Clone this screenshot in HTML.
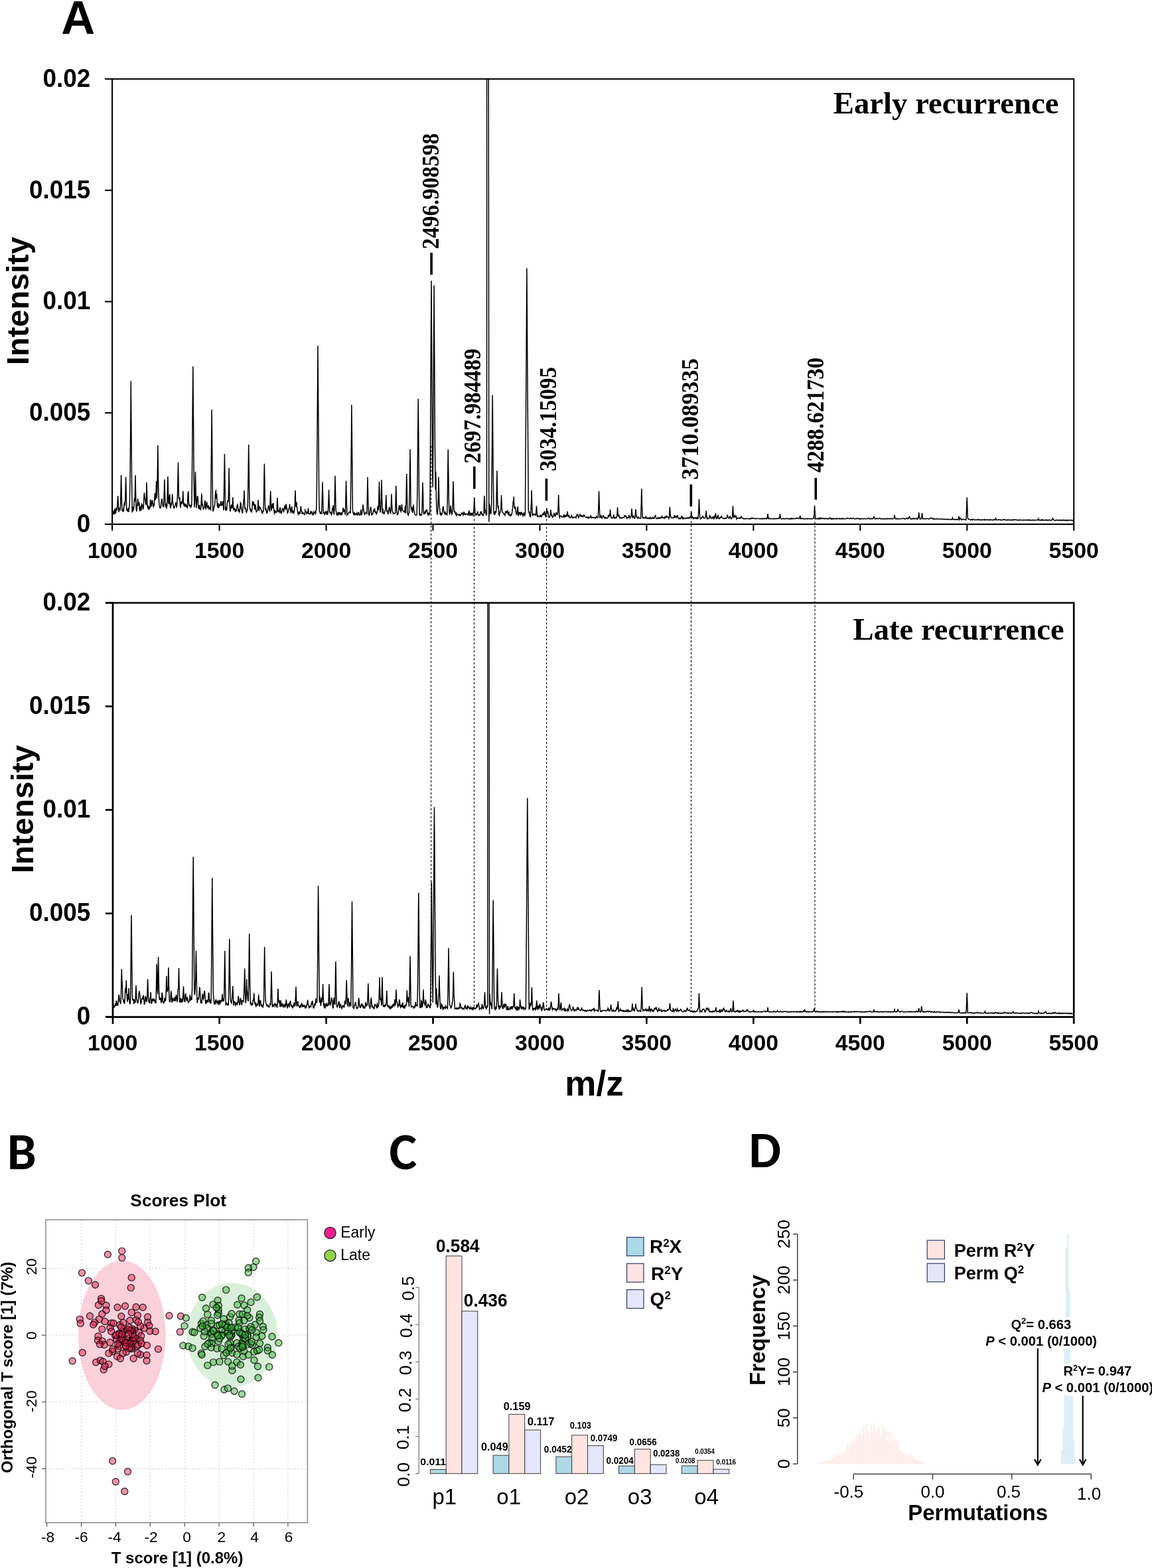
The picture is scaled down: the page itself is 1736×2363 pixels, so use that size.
<!DOCTYPE html><html><head><meta charset="utf-8"><title>Figure</title><style>html,body{margin:0;padding:0;background:#fff;}body{width:1736px;height:2363px;overflow:hidden;position:relative;}svg{position:absolute;left:0;top:0;display:block;}</style></head><body>
<svg width="1736" height="2363" viewBox="0 0 1736 2363" font-family="'Liberation Sans', Arial, Helvetica, sans-serif">
<rect x="0" y="0" width="1736" height="2363" fill="#fff"/>
<defs><clipPath id="c1"><rect x="169.7" y="119.0" width="1448.5" height="671.0"/></clipPath><clipPath id="c2"><rect x="170.0" y="908.5" width="1448.2" height="624.0999999999999"/></clipPath></defs>
<text x="92.2" y="50.9" font-size="70.6" font-weight="bold" font-family="'Liberation Sans', Arial, Helvetica, sans-serif">A</text>
<polyline points="170.0,775.2 170.7,772.0 171.3,770.7 171.9,774.6 172.6,773.6 173.2,766.3 173.9,773.4 174.6,772.7 175.2,765.1 175.8,768.4 176.5,768.6 177.2,755.1 177.8,747.3 178.4,762.9 179.1,771.8 179.8,765.8 180.4,767.4 181.1,768.3 181.7,758.6 182.3,727.6 182.6,715.7 183.0,734.7 183.7,765.7 184.3,769.5 184.9,770.5 185.6,768.3 186.2,771.0 186.9,761.0 187.6,756.7 188.2,762.2 188.8,751.7 189.5,723.2 189.6,718.7 190.2,743.7 190.8,767.2 191.4,770.0 192.1,767.5 192.8,771.6 193.4,765.2 194.1,771.2 194.7,764.3 195.3,758.8 196.0,726.4 196.7,650.3 197.3,574.2 197.9,650.3 198.6,726.4 199.2,771.3 199.9,770.5 200.6,763.9 201.2,769.1 201.8,764.7 202.5,751.0 203.2,755.8 203.8,725.4 204.0,716.0 204.4,736.8 205.1,765.3 205.8,770.8 206.4,765.5 207.1,759.2 207.7,751.6 208.3,762.0 209.0,758.8 209.7,757.8 210.3,769.0 210.9,769.6 211.6,765.5 212.2,762.4 212.9,769.5 213.6,759.6 214.2,760.5 214.8,762.0 215.5,766.6 216.2,765.3 216.8,751.2 217.4,742.6 218.1,751.2 218.8,752.4 219.4,757.9 220.1,761.1 220.7,737.8 221.0,727.0 221.3,739.5 222.0,762.5 222.7,764.7 223.3,761.7 223.9,767.6 224.6,767.4 225.2,764.6 225.9,765.5 226.6,753.0 227.2,756.1 227.8,763.6 228.5,760.5 229.2,754.2 229.8,754.7 230.4,759.6 231.1,764.5 231.8,760.5 232.4,761.1 233.1,747.0 233.7,743.1 234.3,753.7 235.0,747.0 235.6,725.0 235.7,726.8 236.3,750.6 236.9,737.0 237.6,692.5 237.9,671.0 238.2,696.1 238.9,742.7 239.6,757.1 240.2,761.0 240.8,765.8 241.5,763.1 242.2,766.2 242.8,759.4 243.4,755.0 244.1,751.3 244.8,758.4 245.4,762.4 246.1,761.5 246.7,764.2 247.3,743.3 247.9,722.4 248.0,726.2 248.7,750.8 249.3,763.5 249.9,758.5 250.6,765.5 251.2,765.7 251.9,759.1 252.6,732.4 252.9,718.0 253.2,730.4 253.8,757.1 254.5,759.7 255.2,748.4 255.8,744.7 256.4,763.0 257.1,766.0 257.8,759.8 258.4,760.7 259.1,754.4 259.7,744.5 260.4,758.4 261.0,760.0 261.6,764.9 262.3,765.7 262.9,763.8 263.6,762.5 264.2,761.2 264.9,756.9 265.6,760.0 266.2,765.1 266.9,756.2 267.5,745.5 268.1,716.5 268.5,697.0 268.8,713.8 269.4,750.1 270.1,753.2 270.8,749.2 271.4,761.1 272.1,765.1 272.7,756.2 273.4,757.9 274.0,755.2 274.6,759.5 275.3,752.2 275.8,740.0 275.9,743.7 276.6,759.5 277.2,761.6 277.9,759.3 278.6,760.8 279.2,764.2 279.9,759.3 280.5,763.3 281.1,760.9 281.8,764.2 282.4,765.9 283.1,745.1 283.8,740.3 284.4,757.1 285.1,762.9 285.7,760.7 286.4,763.9 287.0,760.9 287.6,764.4 288.3,762.7 288.9,759.9 289.6,699.3 290.2,619.7 290.8,552.3 290.9,564.6 291.6,644.3 292.2,724.1 292.9,764.8 293.5,758.0 294.1,727.5 294.5,711.0 294.8,725.2 295.4,755.9 296.1,765.4 296.8,753.9 297.4,748.2 298.1,748.5 298.7,761.1 299.4,767.0 300.0,764.4 300.6,761.1 301.3,767.3 301.9,768.2 302.6,768.0 303.2,758.5 303.9,743.7 304.6,760.9 305.2,760.1 305.9,764.8 306.5,768.1 307.1,765.6 307.8,764.9 308.4,758.8 309.1,754.1 309.8,764.6 310.4,767.6 311.1,759.5 311.7,756.3 312.4,762.8 313.0,765.0 313.6,763.6 314.3,761.3 314.9,768.2 315.6,766.1 316.2,764.5 316.9,765.0 317.6,769.3 318.2,706.7 318.9,642.1 319.1,617.2 319.5,657.0 320.1,721.8 320.8,769.9 321.4,769.9 322.1,767.0 322.8,763.0 323.4,762.0 324.1,754.2 324.7,741.1 325.4,739.7 326.0,751.7 326.6,744.1 327.3,760.7 327.9,764.5 328.6,758.0 329.2,765.9 329.9,763.7 330.6,760.6 331.2,761.6 331.9,761.9 332.5,758.6 333.1,755.2 333.8,761.4 334.4,760.6 335.1,760.8 335.8,755.1 336.4,762.7 337.1,769.2 337.7,730.7 338.4,687.3 338.4,684.0 339.0,724.1 339.6,767.6 340.3,768.7 340.9,764.1 341.6,769.2 342.2,761.7 342.9,753.8 343.6,756.8 344.2,753.5 344.9,718.5 345.1,705.0 345.5,726.6 346.1,761.8 346.8,769.9 347.4,769.1 348.1,762.9 348.8,760.5 349.4,765.4 350.1,765.0 350.7,751.5 350.8,749.4 351.4,760.9 352.0,769.1 352.6,767.1 353.3,766.3 353.9,768.0 354.6,771.6 355.2,767.3 355.9,770.8 356.6,766.7 357.2,762.0 357.9,760.4 358.5,763.2 359.1,770.6 359.8,768.7 360.4,771.7 361.1,771.7 361.8,764.8 362.4,757.6 363.1,758.9 363.7,766.9 364.4,767.8 365.0,772.7 365.6,772.7 366.3,763.6 366.9,757.0 367.6,751.1 368.0,739.0 368.2,746.6 368.9,766.2 369.6,767.0 370.2,764.9 370.9,771.1 371.5,772.2 372.1,769.8 372.8,769.0 373.4,757.3 374.1,715.4 374.7,670.0 374.8,673.8 375.4,723.0 376.1,762.0 376.7,767.3 377.4,767.0 378.0,771.5 378.6,769.4 379.3,771.0 379.9,766.6 380.6,755.1 381.2,761.3 381.9,758.0 382.0,756.4 382.6,758.7 383.2,761.9 383.9,768.3 384.5,760.0 385.1,762.7 385.8,769.8 386.4,771.7 387.1,771.3 387.8,769.0 388.4,764.7 389.0,753.4 389.1,754.3 389.7,766.6 390.4,770.2 391.0,764.0 391.6,765.3 392.3,765.1 392.9,767.8 393.6,768.2 394.2,770.9 394.9,773.0 395.6,773.7 396.2,769.3 396.9,771.5 397.5,752.3 398.1,713.7 398.4,698.8 398.8,722.6 399.4,761.3 400.1,769.2 400.8,765.7 401.4,771.4 402.1,773.3 402.7,771.9 403.4,768.8 404.0,767.1 404.6,761.5 405.3,765.7 405.9,768.7 406.6,770.0 407.2,753.7 407.7,740.0 407.9,746.1 408.6,765.0 409.2,769.7 409.9,763.4 410.5,758.9 411.1,765.6 411.8,758.0 412.4,765.7 413.1,772.7 413.8,774.0 414.4,770.0 415.1,771.2 415.7,771.9 416.4,771.3 417.0,772.6 417.6,757.9 418.0,750.0 418.3,756.8 418.9,771.2 419.6,769.8 420.2,770.4 420.9,771.9 421.6,766.4 422.2,764.6 422.9,773.1 423.5,770.8 424.1,774.5 424.8,768.9 425.4,766.4 426.1,766.6 426.8,766.8 427.4,772.2 428.1,768.3 428.7,764.0 429.4,762.5 430.0,766.3 430.6,768.3 431.3,759.3 431.9,764.4 432.6,767.4 433.2,773.2 433.9,772.1 434.6,769.9 435.2,767.1 435.9,765.3 436.5,759.5 437.1,766.3 437.8,769.4 438.4,773.2 439.1,765.4 439.8,763.4 440.4,771.2 441.1,770.3 441.7,774.1 442.4,770.9 443.0,772.6 443.6,770.1 444.3,761.6 444.9,740.6 445.0,739.0 445.6,758.4 446.2,764.2 446.9,756.6 447.6,765.5 448.2,768.8 448.9,773.9 449.5,775.4 450.1,772.4 450.8,773.5 451.4,771.0 452.1,774.6 452.8,769.0 453.4,762.7 454.1,769.5 454.7,770.6 455.4,774.8 456.0,773.0 456.6,772.4 457.3,773.6 457.9,774.6 458.6,774.9 459.2,775.4 459.9,768.6 460.6,770.2 461.2,770.9 461.9,773.9 462.5,772.2 463.1,771.8 463.8,774.3 464.4,765.7 465.1,772.2 465.8,774.6 466.4,774.7 467.1,774.3 467.7,774.5 468.4,770.5 469.0,771.1 469.6,774.0 470.3,771.2 470.9,775.6 471.6,775.9 472.2,775.8 472.9,771.6 473.6,773.1 474.2,772.5 474.9,771.1 475.5,775.3 476.1,770.0 476.8,768.4 477.4,729.9 478.1,642.3 478.8,554.7 479.0,521.0 479.4,574.9 480.1,662.5 480.7,750.1 481.4,771.1 482.0,771.6 482.6,773.6 483.3,772.4 483.9,771.6 484.6,775.0 485.2,758.2 485.9,730.6 486.0,726.4 486.6,749.7 487.2,772.8 487.9,772.0 488.5,772.8 489.1,776.2 489.8,773.4 490.4,771.6 491.1,773.2 491.8,771.3 492.4,774.2 493.1,772.4 493.7,776.0 494.4,771.3 495.0,758.3 495.6,738.0 495.6,739.7 496.3,761.7 496.9,771.7 497.6,773.1 498.2,773.7 498.9,771.5 499.6,775.6 500.2,774.1 500.9,765.5 501.5,768.6 502.1,761.5 502.8,772.7 503.4,775.6 504.1,761.3 504.8,729.3 505.0,717.0 505.4,736.7 506.1,768.7 506.7,771.6 507.4,775.5 508.0,776.2 508.6,775.2 509.3,771.7 509.9,776.0 510.6,775.5 511.2,771.8 511.9,775.2 512.5,772.3 513.2,776.4 513.9,772.0 514.5,775.7 515.1,775.9 515.8,773.0 516.5,771.4 517.1,765.2 517.8,766.9 518.4,771.9 519.0,767.8 519.7,770.8 520.4,776.1 521.0,750.8 521.6,724.4 521.6,726.6 522.3,755.2 523.0,776.2 523.6,775.2 524.2,775.2 524.9,773.8 525.5,772.9 526.2,771.6 526.9,772.5 527.5,771.7 528.1,773.6 528.8,725.7 529.5,657.3 529.9,610.0 530.1,631.0 530.8,699.4 531.4,767.8 532.0,772.6 532.7,774.6 533.4,775.7 534.0,771.9 534.6,774.1 535.3,775.6 536.0,774.3 536.6,774.9 537.2,775.2 537.9,773.2 538.5,776.0 539.2,774.7 539.9,773.8 540.5,771.6 541.1,776.2 541.8,776.3 542.5,775.9 543.1,774.8 543.8,767.8 544.4,775.8 545.0,775.8 545.7,773.2 546.4,768.1 547.0,760.3 547.6,766.9 548.3,770.0 549.0,774.6 549.6,775.6 550.2,773.9 550.9,772.7 551.5,772.2 552.2,773.1 552.9,774.0 553.5,742.9 554.0,719.0 554.1,726.2 554.8,757.3 555.5,773.3 556.1,776.3 556.8,775.6 557.4,771.8 558.0,765.7 558.7,764.7 559.4,769.0 560.0,776.2 560.6,775.9 561.3,774.0 562.0,774.0 562.6,770.5 563.2,768.9 563.9,770.1 564.5,766.2 565.2,770.8 565.9,772.4 566.5,771.9 567.1,774.8 567.8,773.9 568.5,769.9 569.1,764.3 569.8,762.9 570.4,768.7 571.0,745.1 571.5,725.7 571.7,734.3 572.4,762.4 573.0,772.3 573.6,768.7 574.3,754.5 575.0,725.3 575.0,723.0 575.6,750.0 576.2,773.5 576.9,766.4 577.5,771.8 578.2,774.2 578.9,774.2 579.5,772.8 580.1,769.7 580.8,767.7 581.5,755.6 581.8,746.0 582.1,754.3 582.8,771.3 583.4,768.8 584.0,771.4 584.7,775.1 585.4,772.2 586.0,767.5 586.6,764.0 587.3,766.8 588.0,771.7 588.6,774.4 589.2,766.0 589.9,747.3 590.0,744.4 590.5,760.3 591.2,770.3 591.9,771.5 592.5,774.0 593.1,773.2 593.8,773.7 594.5,773.7 595.1,773.6 595.8,772.4 596.4,747.4 596.8,732.0 597.0,741.6 597.7,766.7 598.4,775.5 599.0,775.8 599.6,774.6 600.3,772.7 601.0,765.9 601.6,761.5 602.2,768.1 602.9,761.4 603.5,769.3 604.2,771.0 604.9,767.0 605.5,759.9 606.1,768.0 606.8,769.4 607.5,770.2 608.1,770.6 608.8,770.3 609.4,772.6 610.0,768.6 610.7,762.1 611.4,773.7 612.0,755.1 612.6,721.7 612.8,714.0 613.3,739.7 614.0,773.0 614.6,775.1 615.2,776.4 615.9,773.5 616.5,773.1 617.2,736.1 617.9,688.1 618.0,677.0 618.5,713.9 619.1,761.9 619.8,768.5 620.5,764.0 621.1,771.1 621.8,772.0 622.4,765.1 623.0,760.5 623.7,768.7 624.4,771.1 625.0,775.1 625.6,776.3 626.3,776.3 627.0,776.5 627.6,776.1 628.2,775.8 628.9,742.4 629.5,671.7 630.2,601.0 630.9,671.7 631.5,742.4 632.1,775.1 632.8,776.5 633.5,775.0 634.1,776.5 634.8,776.5 635.4,776.4 636.0,767.2 636.7,739.7 637.0,727.0 637.4,741.8 638.0,769.3 638.6,775.2 639.3,771.3 640.0,774.7 640.6,770.5 641.2,772.1 641.9,768.6 642.5,771.4 643.2,767.6 643.9,772.2 644.5,774.2 645.1,776.6 645.8,772.3 646.5,775.8 647.1,774.4 647.8,774.4 648.4,699.1 649.0,586.9 649.7,474.8 650.0,423.0 650.4,483.4 651.0,595.6 651.6,707.7 652.3,734.5 653.0,624.5 653.6,514.6 654.1,430.0 654.2,455.4 654.9,565.3 655.5,675.3 656.2,737.5 656.7,710.7 656.9,718.8 657.5,753.6 658.1,770.1 658.8,774.9 659.5,774.1 660.1,762.2 660.8,730.8 661.0,718.7 661.4,738.0 662.0,763.2 662.7,766.9 663.4,776.0 664.0,774.1 664.6,776.1 665.3,774.2 666.0,774.9 666.6,771.2 667.2,766.5 667.9,762.8 668.5,768.8 669.2,773.1 669.9,774.1 670.5,774.5 671.1,770.9 671.8,775.1 672.5,774.1 673.1,775.2 673.8,775.7 674.4,743.8 675.0,695.8 675.3,677.3 675.7,706.8 676.4,754.8 677.0,769.9 677.6,775.8 678.3,772.4 679.0,761.8 679.6,767.5 680.2,771.7 680.9,775.1 681.5,774.2 682.2,760.3 682.9,731.9 683.0,725.3 683.5,747.2 684.1,770.0 684.8,771.3 685.5,770.7 686.1,773.1 686.8,774.7 687.4,771.9 688.0,776.9 688.7,775.9 689.4,775.3 690.0,774.8 690.6,775.0 691.3,775.9 692.0,776.9 692.6,775.3 693.2,776.0 693.9,776.8 694.5,775.3 695.2,775.1 695.9,773.1 696.5,772.8 697.1,773.8 697.8,776.5 698.5,774.6 699.1,771.1 699.8,773.4 700.4,775.7 701.0,775.7 701.7,774.3 702.4,774.2 703.0,774.8 703.6,774.4 704.3,775.0 705.0,775.2 705.6,776.1 706.2,771.6 706.9,769.2 707.5,775.4 708.2,774.0 708.9,776.0 709.5,774.4 710.1,776.7 710.8,773.8 711.5,773.3 712.1,776.7 712.8,776.5 713.4,774.2 714.0,768.5 714.7,752.1 714.8,749.6 715.4,763.4 716.0,776.7 716.6,774.4 717.3,774.9 718.0,776.2 718.6,775.1 719.2,771.5 719.9,771.7 720.5,774.7 721.2,776.7 721.9,775.9 722.5,776.1 723.1,776.6 723.8,773.1 724.5,771.2 725.1,771.1 725.8,775.4 726.4,773.4 727.0,776.8 727.7,776.3 728.4,776.6 729.0,774.4 729.6,756.6 730.0,747.0 730.3,755.2 731.0,771.2 731.6,770.0 732.2,774.1 732.7,776.7 732.9,772.4 733.5,775.5 733.6,79.0 734.2,79.0 734.9,79.0 735.5,79.0 736.1,79.0 736.2,79.0 736.8,786.5 737.5,763.0 737.8,761.0 738.1,761.8 738.8,771.5 739.4,775.0 740.0,773.0 740.7,760.3 741.4,689.9 742.0,617.6 742.2,595.3 742.6,645.4 743.3,717.7 744.0,772.6 744.6,774.6 745.2,772.8 745.9,775.7 746.5,770.1 747.2,773.2 747.9,767.2 748.5,731.3 748.9,709.3 749.1,723.1 749.8,758.9 750.5,765.9 751.1,762.0 751.8,775.7 752.4,776.6 753.0,772.2 753.7,772.5 754.4,769.7 755.0,763.2 755.6,746.2 755.6,747.6 756.3,766.1 757.0,771.9 757.6,772.3 758.2,773.1 758.9,773.8 759.5,775.0 760.2,774.8 760.9,776.5 761.5,772.6 762.1,770.1 762.8,773.1 763.5,772.6 764.1,770.5 764.8,769.7 765.4,773.9 766.0,776.4 766.7,771.1 767.4,774.3 768.0,776.8 768.6,777.5 769.3,776.5 770.0,775.3 770.6,776.5 771.2,775.4 771.9,770.3 772.5,765.7 773.2,756.7 773.9,757.8 774.2,748.4 774.5,756.4 775.1,765.8 775.8,766.0 776.5,763.6 777.1,771.1 777.8,772.5 778.4,776.4 779.0,773.8 779.7,765.6 780.4,763.6 781.0,777.8 781.6,773.8 782.3,772.3 783.0,772.9 783.6,776.1 784.2,773.4 784.9,775.2 785.5,772.1 786.2,772.2 786.9,775.6 787.5,773.6 788.1,777.4 788.8,776.1 789.5,772.4 790.1,777.1 790.8,776.5 791.4,775.3 791.5,772.4 792.0,692.7 792.7,591.3 793.4,490.0 793.4,482.2 793.9,404.2 794.0,419.8 794.4,482.2 794.6,521.2 795.3,622.6 796.0,724.0 796.3,769.5 796.6,770.0 797.2,772.6 797.9,772.0 798.5,778.1 799.2,778.6 799.9,773.4 800.5,759.8 801.1,738.7 801.1,740.5 801.8,763.3 802.5,777.6 803.1,774.3 803.8,775.4 804.4,775.6 805.0,775.2 805.7,774.7 806.4,776.3 807.0,776.6 807.6,775.7 808.3,765.7 808.5,762.6 809.0,769.6 809.6,778.4 810.2,778.1 810.9,777.2 811.5,778.5 812.2,778.4 812.9,778.7 813.5,778.5 814.1,776.2 814.8,776.3 815.5,779.0 816.1,778.3 816.8,776.8 817.4,775.6 818.0,774.9 818.7,772.6 819.4,776.6 820.0,773.6 820.6,770.5 821.3,774.0 822.0,777.6 822.6,779.5 823.2,774.2 823.9,765.6 824.5,774.0 825.2,769.9 825.9,773.2 826.5,779.6 827.1,779.4 827.8,779.6 828.5,778.4 829.1,775.1 829.8,768.1 830.4,772.5 831.0,777.0 831.7,776.3 832.4,779.8 833.0,779.2 833.6,778.8 834.3,777.7 835.0,772.9 835.6,775.1 836.2,777.6 836.9,778.0 837.5,775.6 838.2,772.0 838.9,775.7 839.5,773.5 840.1,776.0 840.8,770.4 841.5,753.3 841.7,745.6 842.1,758.0 842.8,778.0 843.4,779.9 844.0,777.5 844.7,777.6 845.4,777.2 846.0,778.1 846.6,779.2 847.3,779.0 848.0,778.7 848.6,778.5 849.2,776.9 849.9,779.8 850.5,777.2 851.2,779.1 851.9,778.9 852.5,775.8 853.1,778.2 853.8,778.2 854.5,775.6 855.1,770.5 855.8,776.4 856.4,778.2 857.0,776.9 857.7,777.1 858.4,780.1 859.0,780.2 859.6,779.6 860.3,779.6 861.0,778.4 861.6,777.0 862.2,779.8 862.9,780.6 863.5,780.3 864.2,779.5 864.9,779.4 865.5,780.0 866.1,779.7 866.8,779.0 867.5,779.1 868.1,780.4 868.8,777.6 869.4,775.8 870.0,777.0 870.7,775.8 871.4,778.1 872.0,780.1 872.6,778.5 873.3,777.1 874.0,775.4 874.6,777.3 875.2,778.0 875.9,776.9 876.5,778.2 877.2,777.4 877.9,778.1 878.5,779.0 879.1,778.6 879.8,776.0 880.5,776.3 881.1,778.2 881.8,778.9 882.4,779.6 883.0,779.4 883.7,779.1 884.4,779.7 885.0,779.5 885.6,780.9 886.3,781.0 887.0,779.3 887.6,780.7 888.2,780.4 888.9,780.2 889.5,779.5 890.2,776.3 890.9,779.4 891.5,780.7 892.1,779.8 892.8,779.4 893.5,779.9 894.1,780.5 894.8,780.1 895.4,779.6 896.0,779.9 896.7,780.8 897.4,781.2 898.0,779.5 898.6,778.2 899.3,779.2 900.0,780.2 900.6,779.8 901.2,780.0 901.9,765.3 902.5,742.0 902.6,740.2 903.2,761.7 903.9,780.6 904.5,779.3 905.1,778.0 905.8,777.0 906.5,780.7 907.1,781.0 907.8,779.7 908.4,777.9 909.0,776.9 909.7,777.6 910.4,780.5 911.0,780.9 911.6,780.0 912.3,779.4 913.0,780.9 913.6,780.4 914.2,780.9 914.9,781.2 915.5,780.3 916.2,779.0 916.9,775.7 917.5,778.5 918.1,777.9 918.8,777.3 919.5,769.7 919.6,767.8 920.1,774.3 920.8,780.2 921.4,780.2 922.0,780.4 922.7,781.1 923.4,779.8 924.0,780.0 924.6,775.5 925.3,777.9 926.0,780.7 926.6,780.1 927.2,780.9 927.9,780.0 928.5,780.7 929.2,779.9 929.9,776.5 930.5,766.1 930.6,764.5 931.1,773.3 931.8,778.5 932.5,775.5 933.1,778.3 933.8,780.1 934.4,781.1 935.0,779.6 935.7,780.1 936.4,780.3 937.0,781.0 937.6,780.0 938.3,779.7 939.0,780.0 939.6,779.8 940.2,780.2 940.9,777.1 941.5,777.9 942.2,778.4 942.9,777.1 943.5,777.7 944.1,780.2 944.8,781.4 945.5,779.7 946.1,780.0 946.8,780.4 947.4,779.9 948.0,776.1 948.7,778.2 949.4,780.5 950.0,778.8 950.6,778.9 951.3,776.4 952.0,766.9 952.0,766.2 952.6,774.9 953.2,780.9 953.9,777.4 954.5,777.4 955.2,779.0 955.9,780.6 956.5,781.2 957.1,778.8 957.8,769.9 958.0,767.2 958.5,773.4 959.1,779.2 959.8,779.4 960.4,779.4 961.0,781.0 961.7,779.3 962.4,780.0 963.0,781.0 963.6,781.0 964.3,780.9 965.0,781.1 965.6,781.3 966.2,761.7 966.9,736.2 967.5,761.7 968.2,779.2 968.9,780.7 969.5,779.9 970.1,780.8 970.8,780.2 971.5,780.6 972.1,779.7 972.8,780.7 973.4,778.8 974.0,780.9 974.7,780.6 975.4,780.2 976.0,781.5 976.6,780.7 977.3,780.5 978.0,781.5 978.6,780.3 979.2,781.1 979.9,779.9 980.5,781.7 981.2,781.6 981.9,780.7 982.5,781.4 983.1,781.1 983.8,779.5 984.5,780.4 985.1,781.4 985.8,781.6 986.4,779.8 987.0,777.3 987.7,776.8 988.4,779.5 989.0,781.4 989.6,781.6 990.3,781.4 991.0,781.3 991.6,780.0 992.2,781.1 992.9,781.6 993.5,780.3 994.2,780.2 994.9,781.1 995.5,779.8 996.1,780.0 996.8,780.4 997.5,778.1 998.1,780.1 998.8,780.0 999.4,780.5 1000.0,779.9 1000.7,780.2 1001.4,781.1 1002.0,779.0 1002.6,780.2 1003.3,779.3 1004.0,778.0 1004.6,779.4 1005.2,778.0 1005.9,778.2 1006.5,779.5 1007.2,779.7 1007.9,781.6 1008.5,779.1 1009.1,768.2 1009.4,764.0 1009.8,770.7 1010.5,779.4 1011.1,779.4 1011.8,780.5 1012.4,780.1 1013.0,780.4 1013.7,780.5 1014.4,780.1 1015.0,780.6 1015.6,780.2 1016.3,776.1 1017.0,779.3 1017.6,779.5 1018.2,778.0 1018.9,777.8 1019.5,780.1 1020.2,779.5 1020.9,776.5 1021.5,779.0 1022.1,780.3 1022.8,781.6 1023.5,781.2 1024.1,781.8 1024.8,780.6 1025.4,781.8 1026.0,781.3 1026.7,779.7 1027.3,777.1 1028.0,779.9 1028.7,781.5 1029.3,780.3 1030.0,781.7 1030.6,780.6 1031.2,781.5 1031.9,781.1 1032.5,780.9 1033.2,781.4 1033.8,781.6 1034.5,780.9 1035.2,780.5 1035.8,780.0 1036.5,781.4 1037.1,781.2 1037.8,780.7 1038.4,779.5 1039.0,780.4 1039.7,779.5 1040.3,779.6 1041.0,778.1 1041.7,770.8 1041.7,770.2 1042.3,776.9 1043.0,781.1 1043.6,778.7 1044.2,779.3 1044.9,781.8 1045.5,781.0 1046.2,780.2 1046.8,781.0 1047.5,780.4 1048.2,780.1 1048.8,781.5 1049.5,781.6 1050.1,780.0 1050.8,781.5 1051.4,780.2 1052.0,780.9 1052.7,773.7 1053.3,756.1 1053.5,752.1 1054.0,765.6 1054.7,780.2 1055.3,781.9 1056.0,781.9 1056.6,781.2 1057.2,780.0 1057.9,780.2 1058.5,778.1 1059.2,777.8 1059.8,779.7 1060.5,781.0 1061.2,780.5 1061.8,780.7 1062.5,780.7 1063.1,779.2 1063.8,774.9 1064.2,769.5 1064.4,771.9 1065.0,779.6 1065.7,781.7 1066.3,780.4 1067.0,781.2 1067.7,781.7 1068.3,781.5 1069.0,780.7 1069.6,776.8 1070.2,777.8 1070.9,779.4 1071.5,781.1 1072.2,780.2 1072.8,780.2 1073.5,781.0 1074.2,779.2 1074.8,780.0 1075.5,781.4 1076.1,778.4 1076.8,780.3 1077.4,778.3 1078.0,776.3 1078.4,773.4 1078.7,775.9 1079.3,781.3 1080.0,780.4 1080.7,781.2 1081.3,778.8 1082.0,776.2 1082.6,780.0 1083.2,781.6 1083.9,782.0 1084.5,780.5 1085.2,780.8 1085.8,780.0 1086.5,778.4 1087.2,777.8 1087.8,779.7 1088.5,780.7 1089.1,780.9 1089.8,781.0 1090.4,780.9 1091.0,781.8 1091.7,781.3 1092.3,781.5 1093.0,780.7 1093.7,781.2 1094.3,780.7 1095.0,780.8 1095.6,779.2 1096.2,775.7 1096.9,778.8 1097.5,780.2 1098.2,781.2 1098.8,780.9 1099.5,778.8 1100.2,778.1 1100.8,779.7 1101.5,781.9 1102.1,781.8 1102.8,780.8 1103.4,780.2 1104.0,770.8 1104.5,762.6 1104.7,766.2 1105.3,778.0 1106.0,779.8 1106.7,778.1 1107.3,776.8 1108.0,779.1 1108.6,778.7 1109.2,777.8 1109.9,782.0 1110.5,780.6 1111.2,780.9 1111.8,781.3 1112.5,780.9 1113.2,780.5 1113.8,780.4 1114.5,781.5 1115.1,781.0 1115.8,781.1 1116.4,778.8 1117.0,778.3 1117.7,779.9 1118.3,780.5 1119.0,781.2 1119.7,781.1 1120.3,781.9 1121.0,781.4 1121.6,781.8 1122.2,781.5 1122.9,782.0 1123.5,781.7 1124.2,781.5 1124.8,781.5 1125.5,781.5 1126.2,781.9 1126.8,781.4 1127.5,781.4 1128.1,781.5 1128.8,781.7 1129.4,781.9 1130.0,781.6 1130.7,782.0 1131.3,781.1 1132.0,781.8 1132.7,781.3 1133.3,780.4 1134.0,781.2 1134.6,781.2 1135.2,781.0 1135.9,781.2 1136.5,781.5 1137.2,781.1 1137.8,781.8 1138.5,781.7 1139.2,781.9 1139.8,781.7 1140.5,781.1 1141.1,781.4 1141.8,781.6 1142.4,781.6 1143.0,781.5 1143.7,781.5 1144.3,781.7 1145.0,781.6 1145.7,782.0 1146.3,781.7 1147.0,781.4 1147.6,781.9 1148.2,781.8 1148.9,781.3 1149.5,782.0 1150.2,781.9 1150.8,781.3 1151.5,782.0 1152.2,781.8 1152.8,781.2 1153.5,781.7 1154.1,781.3 1154.8,781.3 1155.4,782.0 1156.0,781.5 1156.7,776.6 1157.0,774.4 1157.3,777.0 1158.0,781.1 1158.7,782.0 1159.3,781.1 1160.0,781.5 1160.6,781.5 1161.2,782.0 1161.9,781.5 1162.5,781.3 1163.2,781.7 1163.8,782.0 1164.5,782.0 1165.2,782.0 1165.8,781.7 1166.5,781.3 1167.1,782.0 1167.8,781.7 1168.4,781.7 1169.0,781.7 1169.7,781.6 1170.3,781.6 1171.0,781.9 1171.7,781.3 1172.3,781.5 1173.0,781.4 1173.6,780.7 1174.2,781.4 1174.9,778.9 1175.5,774.4 1175.5,774.8 1176.2,779.6 1176.8,781.9 1177.5,782.0 1178.2,781.9 1178.8,781.9 1179.5,781.8 1180.1,781.1 1180.8,781.5 1181.4,781.9 1182.0,781.8 1182.7,781.7 1183.3,782.0 1184.0,781.7 1184.7,781.6 1185.3,781.2 1186.0,781.7 1186.6,781.4 1187.2,781.5 1187.9,782.0 1188.5,781.6 1189.2,781.7 1189.8,782.0 1190.5,782.1 1191.2,781.1 1191.8,782.0 1192.5,781.2 1193.1,781.8 1193.8,782.0 1194.4,781.1 1195.0,781.5 1195.7,781.8 1196.3,781.3 1197.0,781.4 1197.7,781.7 1198.3,781.4 1199.0,781.3 1199.6,781.7 1200.2,781.2 1200.9,780.7 1201.5,780.5 1202.2,781.2 1202.8,781.1 1203.5,781.3 1204.2,781.7 1204.8,781.5 1205.5,778.2 1205.7,777.0 1206.1,779.0 1206.8,782.0 1207.4,781.9 1208.0,781.2 1208.7,781.6 1209.3,781.3 1210.0,781.2 1210.7,782.0 1211.3,781.9 1212.0,781.9 1212.6,782.1 1213.2,781.4 1213.9,781.8 1214.5,781.8 1215.2,781.8 1215.8,782.0 1216.5,781.3 1217.2,782.0 1217.8,781.9 1218.5,781.4 1219.1,781.8 1219.8,781.7 1220.4,781.8 1221.0,781.6 1221.7,781.9 1222.3,781.7 1223.0,782.1 1223.7,782.1 1224.3,781.7 1225.0,781.3 1225.6,781.1 1226.2,781.3 1226.9,775.1 1227.5,762.7 1227.6,761.8 1228.2,773.2 1228.8,781.1 1229.5,781.8 1230.2,781.7 1230.8,781.4 1231.5,782.0 1232.1,781.9 1232.8,781.1 1233.4,782.1 1234.0,781.2 1234.7,781.2 1235.3,782.0 1236.0,780.2 1236.7,780.2 1237.3,781.9 1238.0,781.1 1238.6,781.2 1239.2,781.4 1239.9,781.8 1240.5,781.1 1241.2,781.6 1241.8,781.1 1242.5,781.4 1243.2,782.1 1243.8,781.3 1244.5,781.3 1245.1,781.2 1245.8,781.6 1246.4,782.1 1247.0,781.3 1247.7,781.8 1248.3,782.0 1249.0,782.0 1249.7,781.7 1250.3,780.2 1251.0,780.7 1251.6,780.7 1252.2,782.1 1252.9,781.4 1253.5,782.0 1254.2,781.7 1254.8,782.0 1255.5,781.2 1256.2,782.0 1256.8,781.7 1257.5,781.6 1258.1,781.7 1258.8,782.0 1259.4,781.9 1260.0,781.2 1260.7,782.0 1261.3,782.1 1262.0,781.2 1262.7,781.3 1263.3,781.5 1264.0,781.7 1264.6,781.2 1265.2,781.8 1265.9,782.1 1266.5,781.8 1267.2,781.7 1267.8,781.7 1268.5,781.3 1269.2,782.1 1269.8,781.3 1270.5,781.7 1271.1,781.4 1271.8,781.8 1272.4,781.9 1273.0,781.9 1273.7,781.9 1274.3,781.8 1275.0,781.6 1275.7,781.3 1276.3,781.3 1277.0,780.7 1277.6,781.3 1278.2,781.3 1278.9,781.5 1279.5,781.6 1280.2,781.5 1280.8,781.8 1281.5,781.2 1282.2,780.7 1282.8,780.9 1283.5,781.7 1284.1,781.8 1284.8,781.6 1285.4,780.8 1286.0,781.0 1286.7,781.3 1287.3,781.9 1288.0,781.8 1288.7,781.8 1289.3,782.0 1290.0,781.6 1290.6,781.8 1291.2,781.2 1291.9,781.6 1292.5,781.2 1293.2,781.3 1293.8,781.7 1294.5,782.1 1295.2,782.0 1295.8,782.1 1296.5,781.5 1297.1,782.1 1297.8,781.6 1298.4,781.9 1299.0,781.7 1299.7,781.4 1300.3,781.9 1301.0,782.0 1301.7,781.9 1302.3,781.2 1303.0,781.7 1303.6,781.9 1304.2,782.1 1304.9,782.1 1305.5,781.9 1306.2,781.6 1306.8,781.8 1307.5,781.3 1308.2,780.7 1308.8,781.1 1309.5,781.6 1310.1,781.4 1310.8,782.1 1311.4,781.4 1312.0,781.3 1312.7,781.4 1313.3,782.1 1314.0,781.6 1314.7,781.4 1315.3,781.8 1316.0,781.3 1316.6,779.6 1317.0,778.0 1317.2,779.0 1317.9,781.4 1318.5,781.8 1319.2,782.0 1319.8,781.5 1320.5,781.9 1321.2,781.1 1321.8,781.8 1322.5,781.4 1323.1,781.8 1323.8,781.7 1324.4,781.4 1325.0,781.1 1325.7,780.7 1326.3,781.6 1327.0,781.7 1327.7,782.1 1328.3,782.0 1329.0,782.0 1329.6,782.0 1330.2,781.7 1330.9,782.0 1331.5,781.7 1332.2,781.4 1332.8,782.1 1333.5,782.0 1334.2,781.8 1334.8,782.1 1335.5,782.1 1336.1,781.7 1336.8,781.9 1337.4,781.3 1338.0,781.7 1338.7,781.5 1339.3,781.9 1340.0,781.9 1340.7,781.3 1341.3,781.6 1342.0,781.3 1342.6,782.0 1343.2,782.0 1343.9,781.4 1344.5,782.0 1345.2,782.1 1345.8,781.9 1346.5,781.6 1347.2,781.2 1347.8,777.4 1348.0,776.3 1348.5,778.9 1349.1,781.7 1349.8,781.6 1350.4,782.1 1351.0,781.7 1351.7,782.1 1352.3,781.2 1353.0,781.7 1353.7,782.0 1354.3,782.2 1355.0,782.0 1355.6,781.9 1356.2,781.7 1356.9,781.6 1357.5,781.5 1358.2,781.8 1358.8,781.6 1359.5,781.7 1360.2,781.6 1360.8,781.3 1361.5,781.3 1362.1,781.5 1362.8,782.1 1363.4,781.6 1364.0,782.2 1364.7,782.1 1365.3,781.6 1366.0,781.3 1366.7,780.6 1367.3,780.9 1368.0,782.0 1368.6,781.2 1369.2,781.1 1369.9,779.3 1370.5,778.5 1371.2,780.6 1371.8,781.1 1372.5,782.1 1373.2,781.6 1373.8,782.0 1374.5,782.1 1375.1,781.7 1375.8,781.9 1376.4,780.8 1377.0,781.1 1377.7,781.9 1378.3,782.2 1379.0,781.6 1379.7,781.6 1380.3,781.4 1381.0,781.9 1381.6,781.3 1382.2,782.2 1382.9,781.3 1383.5,781.5 1384.2,777.1 1384.7,772.3 1384.8,773.7 1385.5,779.9 1386.2,782.0 1386.8,781.6 1387.5,781.4 1388.1,782.1 1388.8,780.6 1389.4,774.8 1389.6,773.0 1390.0,777.0 1390.7,781.9 1391.3,782.0 1392.0,782.1 1392.7,781.9 1393.3,781.4 1394.0,781.7 1394.6,781.9 1395.2,781.8 1395.9,781.8 1396.5,781.8 1397.2,781.6 1397.8,781.6 1398.5,781.5 1399.2,781.8 1399.8,782.2 1400.5,781.5 1401.1,781.5 1401.8,781.6 1402.4,781.6 1403.0,780.2 1403.7,780.4 1404.3,780.7 1405.0,781.8 1405.7,781.7 1406.3,782.3 1407.0,781.4 1407.6,782.4 1408.2,782.3 1408.9,782.0 1409.5,782.0 1410.2,782.2 1410.8,782.0 1411.5,781.6 1412.2,782.3 1412.8,782.2 1413.5,782.5 1414.1,782.1 1414.8,782.0 1415.4,782.0 1416.0,782.5 1416.7,782.4 1417.3,782.1 1418.0,781.7 1418.7,782.0 1419.3,782.6 1420.0,782.7 1420.6,782.5 1421.2,782.4 1421.9,782.6 1422.5,782.1 1423.2,782.7 1423.8,782.8 1424.5,782.4 1425.2,782.2 1425.8,782.8 1426.5,782.7 1427.1,782.8 1427.8,783.0 1428.4,782.4 1429.0,783.0 1429.7,782.5 1430.3,782.5 1431.0,782.6 1431.7,783.1 1432.3,783.1 1433.0,782.7 1433.6,782.7 1434.2,783.2 1434.9,782.0 1435.5,780.3 1436.2,782.9 1436.8,782.6 1437.5,783.1 1438.2,783.1 1438.8,782.4 1439.5,783.2 1440.1,783.0 1440.8,782.9 1441.4,782.7 1442.0,783.1 1442.7,782.8 1443.3,783.3 1444.0,782.8 1444.7,779.9 1445.0,778.0 1445.3,779.6 1446.0,783.1 1446.6,781.9 1447.2,781.0 1447.9,781.4 1448.5,782.5 1449.2,783.5 1449.8,782.9 1450.5,782.6 1451.2,782.6 1451.8,782.4 1452.5,782.8 1453.1,783.2 1453.8,783.0 1454.4,783.1 1455.0,783.4 1455.7,783.5 1456.3,775.5 1457.0,755.7 1457.2,749.6 1457.7,763.3 1458.3,781.3 1459.0,782.1 1459.6,782.7 1460.2,782.4 1460.9,782.8 1461.5,783.0 1462.2,783.4 1462.8,783.6 1463.5,783.0 1464.2,783.2 1464.8,782.7 1465.5,783.7 1466.1,782.9 1466.8,782.6 1467.4,782.7 1468.0,782.9 1468.7,783.6 1469.3,783.4 1470.0,783.6 1470.7,783.2 1471.3,783.4 1472.0,783.7 1472.6,783.2 1473.2,782.6 1473.9,782.8 1474.5,783.7 1475.2,783.2 1475.8,783.0 1476.5,783.5 1477.2,783.7 1477.8,783.7 1478.5,783.1 1479.1,783.3 1479.8,783.7 1480.4,783.7 1481.0,783.0 1481.7,783.2 1482.3,783.2 1483.0,783.7 1483.7,782.8 1484.3,783.6 1485.0,783.5 1485.6,783.7 1486.2,782.9 1486.9,783.3 1487.5,783.4 1488.2,783.4 1488.8,783.1 1489.5,783.5 1490.2,783.5 1490.8,783.8 1491.5,783.1 1492.1,783.8 1492.8,783.0 1493.4,783.0 1494.0,783.4 1494.7,783.8 1495.3,783.7 1496.0,783.8 1496.7,783.2 1497.3,783.6 1498.0,782.9 1498.6,783.6 1499.2,783.6 1499.9,782.4 1500.5,781.1 1501.2,783.1 1501.8,783.8 1502.5,783.8 1503.2,783.3 1503.8,783.2 1504.5,782.9 1505.1,783.4 1505.8,783.2 1506.4,783.3 1507.0,783.5 1507.7,783.2 1508.3,783.8 1509.0,783.9 1509.7,783.7 1510.3,783.7 1511.0,783.0 1511.6,783.2 1512.2,783.3 1512.9,783.0 1513.5,783.6 1514.2,783.0 1514.8,783.1 1515.5,783.9 1516.2,783.7 1516.8,783.8 1517.5,783.9 1518.1,783.1 1518.8,783.7 1519.4,783.2 1520.0,783.5 1520.7,784.0 1521.3,783.7 1522.0,783.3 1522.7,783.8 1523.3,783.8 1524.0,784.0 1524.6,783.7 1525.2,783.1 1525.9,784.0 1526.5,783.2 1527.2,783.5 1527.8,783.9 1528.5,783.2 1529.2,783.0 1529.8,782.8 1530.5,783.4 1531.1,783.7 1531.8,783.5 1532.4,783.2 1533.0,783.8 1533.7,783.9 1534.3,783.8 1535.0,784.1 1535.7,783.3 1536.3,783.8 1537.0,783.7 1537.6,783.6 1538.2,783.4 1538.9,783.5 1539.5,783.9 1540.2,783.9 1540.8,783.9 1541.5,783.7 1542.2,783.4 1542.8,784.1 1543.5,783.6 1544.1,783.4 1544.8,783.7 1545.4,783.9 1546.0,783.8 1546.7,783.8 1547.3,783.6 1548.0,784.1 1548.7,783.4 1549.3,783.7 1550.0,784.0 1550.6,783.3 1551.2,783.9 1551.9,783.5 1552.5,784.0 1553.2,783.8 1553.8,784.1 1554.5,784.0 1555.2,784.0 1555.8,784.1 1556.5,783.5 1557.1,783.9 1557.8,784.0 1558.4,783.7 1559.0,784.1 1559.7,783.9 1560.3,783.8 1561.0,783.7 1561.7,783.9 1562.3,783.6 1563.0,783.4 1563.6,783.3 1564.2,783.6 1564.9,781.8 1565.0,781.5 1565.5,783.0 1566.2,784.2 1566.8,783.7 1567.5,783.9 1568.2,783.7 1568.8,784.1 1569.5,783.3 1570.1,784.1 1570.8,783.3 1571.4,784.1 1572.0,783.9 1572.7,783.7 1573.3,784.2 1574.0,784.0 1574.7,783.8 1575.3,783.7 1576.0,783.5 1576.6,783.9 1577.2,783.4 1577.9,784.2 1578.5,783.8 1579.2,783.7 1579.8,784.3 1580.5,783.6 1581.2,783.6 1581.8,783.9 1582.5,783.5 1583.1,783.8 1583.8,784.1 1584.4,783.6 1585.0,784.0 1585.7,782.8 1586.3,781.1 1587.0,782.0 1587.7,783.3 1588.3,783.7 1589.0,784.3 1589.6,784.4 1590.2,784.4 1590.9,784.1 1591.5,783.5 1592.2,784.1 1592.8,783.5 1593.5,784.2 1594.2,784.4 1594.8,784.2 1595.5,783.7 1596.1,783.5 1596.8,784.0 1597.4,784.2 1598.0,783.7 1598.7,784.2 1599.3,784.3 1600.0,783.8 1600.7,784.5 1601.3,783.8 1602.0,783.4 1602.6,784.0 1603.2,783.5 1603.9,784.4 1604.5,784.5 1605.2,784.3 1605.8,783.5 1606.5,784.5 1607.2,784.2 1607.8,784.2 1608.5,784.4 1609.1,783.6 1609.8,784.4 1610.4,783.7 1611.0,784.1 1611.7,783.9 1612.3,783.9 1613.0,784.0 1613.7,783.8 1614.3,783.7 1615.0,784.5 1615.6,784.5 1616.2,784.2 1616.9,784.5 1617.5,784.1" fill="none" stroke="#000" stroke-width="1.5" stroke-linejoin="miter" clip-path="url(#c1)"/>
<path d="M158.0,119.0 H1618.2 V790.0 M169.1,119.0 V799.8 M158.0,790.0 H1618.2" fill="none" stroke="#000" stroke-width="2.1"/>
<line x1="158.0" y1="790.0" x2="169.1" y2="790.0" stroke="#000" stroke-width="2.1"/>
<line x1="158.0" y1="622.2" x2="169.1" y2="622.2" stroke="#000" stroke-width="2.1"/>
<line x1="158.0" y1="454.5" x2="169.1" y2="454.5" stroke="#000" stroke-width="2.1"/>
<line x1="158.0" y1="286.8" x2="169.1" y2="286.8" stroke="#000" stroke-width="2.1"/>
<line x1="158.0" y1="119.0" x2="169.1" y2="119.0" stroke="#000" stroke-width="2.1"/>
<line x1="330.6" y1="790.0" x2="330.6" y2="799.8" stroke="#000" stroke-width="2.1"/>
<line x1="491.6" y1="790.0" x2="491.6" y2="799.8" stroke="#000" stroke-width="2.1"/>
<line x1="652.5" y1="790.0" x2="652.5" y2="799.8" stroke="#000" stroke-width="2.1"/>
<line x1="813.5" y1="790.0" x2="813.5" y2="799.8" stroke="#000" stroke-width="2.1"/>
<line x1="974.4" y1="790.0" x2="974.4" y2="799.8" stroke="#000" stroke-width="2.1"/>
<line x1="1135.4" y1="790.0" x2="1135.4" y2="799.8" stroke="#000" stroke-width="2.1"/>
<line x1="1296.3" y1="790.0" x2="1296.3" y2="799.8" stroke="#000" stroke-width="2.1"/>
<line x1="1457.3" y1="790.0" x2="1457.3" y2="799.8" stroke="#000" stroke-width="2.1"/>
<line x1="1618.2" y1="790.0" x2="1618.2" y2="799.8" stroke="#000" stroke-width="2.1"/>
<text transform="translate(136.2,801.8) scale(0.945,1)" font-size="39" font-weight="bold" text-anchor="end">0</text>
<text transform="translate(136.2,634.0) scale(0.945,1)" font-size="39" font-weight="bold" text-anchor="end">0.005</text>
<text transform="translate(136.2,466.3) scale(0.945,1)" font-size="39" font-weight="bold" text-anchor="end">0.01</text>
<text transform="translate(136.2,298.6) scale(0.945,1)" font-size="39" font-weight="bold" text-anchor="end">0.015</text>
<text transform="translate(136.2,130.8) scale(0.945,1)" font-size="39" font-weight="bold" text-anchor="end">0.02</text>
<polyline points="170.0,1519.6 170.7,1512.4 171.3,1518.7 171.9,1518.1 172.6,1516.2 173.2,1516.5 173.9,1512.0 174.6,1515.9 175.2,1508.6 175.8,1509.0 176.5,1515.9 177.2,1511.8 177.8,1514.9 178.4,1507.6 179.1,1498.8 179.8,1502.8 180.4,1510.2 181.1,1508.1 181.7,1513.1 182.3,1504.4 183.0,1474.2 183.3,1460.3 183.7,1476.5 184.3,1482.7 184.9,1504.5 185.6,1506.4 186.2,1509.7 186.9,1508.2 187.6,1512.8 188.2,1506.8 188.8,1489.0 189.5,1496.2 190.2,1482.3 190.3,1477.3 190.8,1494.1 191.4,1503.2 192.1,1510.0 192.8,1498.0 193.4,1506.5 194.1,1489.1 194.7,1503.8 195.3,1511.1 196.0,1513.5 196.7,1503.5 197.3,1443.6 197.9,1383.6 198.0,1379.0 198.6,1434.3 199.2,1494.2 199.9,1507.8 200.6,1505.8 201.2,1506.7 201.8,1513.1 202.5,1506.9 203.2,1506.9 203.8,1511.4 204.4,1499.8 205.0,1485.0 205.1,1487.7 205.8,1505.0 206.4,1507.1 207.1,1511.0 207.7,1511.4 208.3,1509.1 209.0,1500.9 209.7,1493.5 210.3,1496.2 210.9,1500.1 211.6,1507.5 212.2,1513.5 212.9,1510.0 213.6,1505.2 214.2,1505.2 214.8,1503.7 215.5,1506.3 216.2,1499.5 216.8,1505.6 217.4,1513.3 218.1,1512.4 218.8,1505.7 219.4,1501.2 220.1,1506.9 220.7,1510.1 221.3,1508.0 222.0,1495.5 222.6,1475.6 222.7,1477.3 223.3,1498.8 223.9,1508.6 224.6,1509.9 225.2,1511.9 225.9,1505.0 226.6,1501.8 227.2,1495.3 227.8,1512.1 228.5,1512.2 229.2,1507.2 229.8,1504.9 230.4,1509.2 231.1,1506.1 231.8,1505.4 232.4,1508.6 233.1,1506.2 233.7,1510.6 234.3,1511.6 235.0,1511.3 235.7,1480.0 236.2,1453.0 236.3,1457.9 236.9,1489.7 237.6,1498.3 238.2,1461.7 238.6,1442.0 238.9,1458.9 239.6,1495.4 240.2,1506.6 240.8,1503.1 241.5,1505.9 242.2,1504.1 242.8,1510.2 243.4,1511.5 244.1,1495.7 244.8,1499.7 245.4,1508.6 246.1,1511.5 246.7,1511.6 247.3,1511.1 248.0,1504.0 248.7,1506.3 249.3,1508.9 249.9,1504.7 250.6,1481.6 250.9,1471.0 251.2,1483.2 251.9,1494.0 252.6,1494.0 253.2,1489.5 253.8,1460.2 253.9,1458.0 254.5,1484.9 255.2,1507.9 255.8,1509.5 256.4,1509.6 257.1,1504.9 257.8,1493.6 258.4,1498.9 259.1,1510.6 259.7,1509.3 260.4,1503.8 261.0,1508.1 261.6,1505.0 262.3,1507.7 262.9,1506.5 263.6,1502.2 264.2,1509.1 264.9,1505.9 265.6,1499.1 266.2,1502.7 266.9,1509.1 267.5,1508.4 268.1,1491.7 268.8,1489.8 269.4,1461.2 269.5,1459.0 270.1,1485.4 270.8,1510.9 271.4,1508.4 272.1,1504.2 272.7,1510.9 273.4,1506.1 274.0,1505.7 274.6,1509.8 275.3,1509.2 275.9,1498.8 276.5,1486.3 276.6,1488.6 277.2,1503.4 277.9,1509.3 278.6,1509.6 279.2,1498.6 279.9,1498.1 280.5,1503.5 281.1,1507.6 281.8,1506.9 282.4,1502.7 283.1,1508.5 283.8,1510.8 284.4,1510.0 285.1,1509.3 285.7,1506.2 286.4,1499.1 287.0,1508.3 287.6,1504.3 288.3,1502.5 288.9,1507.0 289.6,1489.9 290.2,1409.2 290.9,1328.4 291.2,1291.2 291.6,1334.7 292.2,1415.6 292.9,1496.4 293.5,1499.4 294.1,1490.8 294.8,1476.1 295.4,1436.1 295.5,1433.0 296.1,1470.1 296.8,1504.4 297.4,1511.8 298.1,1503.5 298.7,1506.8 299.4,1504.6 300.0,1499.3 300.6,1487.5 301.3,1490.1 301.9,1503.5 302.6,1511.9 303.2,1507.4 303.9,1512.5 304.6,1504.5 305.2,1497.5 305.9,1504.3 306.5,1505.9 307.1,1503.0 307.8,1494.0 308.4,1493.8 309.1,1501.2 309.8,1512.7 310.4,1511.2 311.1,1507.2 311.7,1510.4 312.4,1508.8 313.0,1506.7 313.6,1510.4 314.3,1497.4 314.9,1495.7 315.6,1508.4 316.2,1511.3 316.9,1506.6 317.6,1512.7 318.2,1506.2 318.9,1431.8 319.5,1357.4 319.8,1323.0 320.1,1363.2 320.8,1437.7 321.4,1499.6 322.1,1503.8 322.8,1514.0 323.4,1510.7 324.1,1509.5 324.7,1513.5 325.4,1506.0 326.0,1508.5 326.6,1509.7 327.3,1511.6 327.9,1508.6 328.6,1508.3 329.2,1513.3 329.9,1513.7 330.6,1506.7 331.2,1511.7 331.9,1512.4 332.5,1507.3 333.1,1509.6 333.8,1509.4 334.4,1506.2 335.1,1498.1 335.8,1509.2 336.4,1506.9 337.1,1509.1 337.7,1503.3 338.4,1461.8 338.8,1433.0 339.0,1445.8 339.6,1487.4 340.3,1515.3 340.9,1511.3 341.6,1511.4 342.2,1513.0 342.9,1514.3 343.6,1512.8 344.2,1515.1 344.9,1485.7 345.5,1437.3 345.8,1415.0 346.1,1441.1 346.8,1489.6 347.4,1507.5 348.1,1509.7 348.8,1512.6 349.4,1507.6 350.1,1499.2 350.7,1488.7 350.8,1486.0 351.4,1501.0 352.0,1515.4 352.6,1508.7 353.3,1509.5 353.9,1510.5 354.6,1514.7 355.2,1513.4 355.9,1511.2 356.6,1512.2 357.2,1515.1 357.9,1510.4 358.5,1510.7 359.1,1501.0 359.8,1504.4 360.4,1510.6 361.1,1514.7 361.8,1511.8 362.4,1503.8 363.1,1507.2 363.7,1509.0 364.4,1514.9 365.0,1508.1 365.6,1508.6 366.3,1508.4 366.9,1509.3 367.6,1495.7 368.2,1481.1 368.7,1459.6 368.9,1469.2 369.6,1500.2 370.2,1511.7 370.9,1506.3 371.5,1482.8 371.7,1475.6 372.1,1491.9 372.8,1496.3 373.4,1505.9 374.1,1509.2 374.8,1482.5 375.4,1430.9 375.7,1407.0 376.1,1434.9 376.7,1486.6 377.4,1513.4 378.0,1509.8 378.6,1515.5 379.3,1513.2 379.9,1512.6 380.6,1514.8 381.2,1506.7 381.9,1508.4 382.6,1499.3 382.7,1496.3 383.2,1506.3 383.9,1512.0 384.5,1513.6 385.1,1512.1 385.8,1516.6 386.4,1516.0 387.1,1512.8 387.8,1513.6 388.4,1514.5 389.1,1510.4 389.7,1498.6 390.4,1510.4 391.0,1517.1 391.6,1511.4 392.3,1507.1 392.9,1509.8 393.6,1515.7 394.2,1516.4 394.9,1514.0 395.6,1517.2 396.2,1518.0 396.9,1514.1 397.5,1510.1 398.1,1465.1 398.7,1427.0 398.8,1433.9 399.4,1479.0 400.1,1506.4 400.8,1512.6 401.4,1513.7 402.1,1515.6 402.7,1514.7 403.4,1517.4 404.0,1514.1 404.6,1517.1 405.3,1517.8 405.9,1516.8 406.6,1515.9 407.2,1511.7 407.9,1514.4 408.6,1484.6 409.0,1464.0 409.2,1473.2 409.9,1503.0 410.5,1517.8 411.1,1516.2 411.8,1514.2 412.4,1514.6 413.1,1516.4 413.8,1512.7 414.4,1512.3 415.1,1514.6 415.7,1516.3 416.4,1513.7 417.0,1513.6 417.6,1518.7 418.3,1508.3 418.9,1491.3 419.0,1490.0 419.6,1505.7 420.2,1511.8 420.9,1507.1 421.6,1513.7 422.2,1517.7 422.9,1507.6 423.5,1510.1 424.1,1516.9 424.8,1514.3 425.4,1513.1 426.1,1516.3 426.8,1517.2 427.4,1514.0 428.1,1518.0 428.7,1513.8 429.4,1513.4 430.0,1516.6 430.6,1515.0 431.3,1506.4 431.9,1511.7 432.6,1517.7 433.2,1518.6 433.9,1513.6 434.6,1513.0 435.2,1515.8 435.9,1518.1 436.5,1509.8 437.1,1512.1 437.8,1508.1 438.4,1515.2 439.1,1514.9 439.8,1517.7 440.4,1515.2 441.1,1518.8 441.7,1517.7 442.4,1515.6 443.0,1512.4 443.6,1510.9 444.3,1516.7 444.9,1514.0 445.6,1498.5 446.0,1487.0 446.2,1494.2 446.9,1513.0 447.6,1516.8 448.2,1510.2 448.9,1509.8 449.5,1515.7 450.1,1515.8 450.8,1516.5 451.4,1518.4 452.1,1517.1 452.8,1514.0 453.4,1518.5 454.1,1515.2 454.7,1512.3 455.4,1513.2 456.0,1517.1 456.6,1517.2 457.3,1515.4 457.9,1516.2 458.6,1515.1 459.2,1517.1 459.9,1519.2 460.6,1519.1 461.2,1514.9 461.9,1516.8 462.5,1514.2 463.1,1510.6 463.8,1506.8 464.4,1514.0 465.1,1515.5 465.8,1518.8 466.4,1517.9 467.1,1515.9 467.7,1516.1 468.4,1518.2 469.0,1513.3 469.6,1511.2 470.3,1513.6 470.9,1508.1 471.6,1515.4 472.2,1518.9 472.9,1519.1 473.6,1516.7 474.2,1512.2 474.9,1515.3 475.5,1510.3 476.1,1504.5 476.8,1509.3 477.4,1511.8 478.1,1502.5 478.8,1430.1 479.4,1357.2 479.6,1334.8 480.1,1385.3 480.7,1458.2 481.4,1510.8 482.0,1501.5 482.6,1508.3 483.3,1516.0 483.9,1510.9 484.6,1503.6 485.2,1510.5 485.9,1505.7 486.6,1484.6 486.6,1483.0 487.2,1502.5 487.9,1515.6 488.5,1517.1 489.1,1512.4 489.8,1518.7 490.4,1517.9 491.1,1513.5 491.8,1514.9 492.4,1513.0 493.1,1516.1 493.7,1515.5 494.4,1513.0 495.0,1515.5 495.6,1494.4 496.0,1483.0 496.3,1492.7 496.9,1513.2 497.6,1512.3 498.2,1513.9 498.9,1510.5 499.6,1503.3 500.2,1505.9 500.9,1508.8 501.5,1519.6 502.1,1518.3 502.8,1507.7 503.4,1503.4 504.1,1511.8 504.8,1514.2 505.4,1477.3 505.9,1449.0 506.1,1457.5 506.7,1494.4 507.4,1515.2 508.0,1518.4 508.6,1515.5 509.3,1515.9 509.9,1512.7 510.6,1509.7 511.2,1510.0 511.9,1519.2 512.5,1515.2 513.2,1513.7 513.9,1515.1 514.5,1518.8 515.1,1519.8 515.8,1517.0 516.5,1515.6 517.1,1515.6 517.8,1517.6 518.4,1517.9 519.0,1516.3 519.7,1508.7 520.4,1509.1 521.0,1513.5 521.6,1497.5 522.2,1477.0 522.3,1480.7 523.0,1505.0 523.6,1516.7 524.2,1504.8 524.9,1505.0 525.5,1509.8 526.2,1517.5 526.9,1511.7 527.5,1511.1 528.1,1514.0 528.8,1516.5 529.5,1466.7 530.1,1399.7 530.5,1358.4 530.8,1384.2 531.4,1451.3 532.0,1518.4 532.7,1518.7 533.4,1519.6 534.0,1515.5 534.6,1515.0 535.3,1511.0 536.0,1511.0 536.6,1515.6 537.2,1517.7 537.9,1519.8 538.5,1519.7 539.2,1519.1 539.9,1514.5 540.5,1503.8 541.1,1507.5 541.8,1514.8 542.5,1518.9 543.1,1514.9 543.8,1517.2 544.4,1515.4 545.0,1512.8 545.7,1513.3 546.4,1516.6 547.0,1518.0 547.6,1516.1 548.3,1518.7 549.0,1518.0 549.6,1520.0 550.2,1516.9 550.9,1510.6 551.5,1512.2 552.2,1516.2 552.9,1515.2 553.5,1513.9 554.1,1503.9 554.8,1482.0 555.5,1503.9 556.1,1516.1 556.8,1516.7 557.4,1519.3 558.0,1517.6 558.7,1508.7 559.4,1503.3 560.0,1512.0 560.6,1517.4 561.3,1516.2 562.0,1517.8 562.6,1518.0 563.2,1519.9 563.9,1520.2 564.5,1514.8 565.2,1513.5 565.9,1515.1 566.5,1516.0 567.1,1517.1 567.8,1518.4 568.5,1511.3 569.1,1518.6 569.8,1516.7 570.4,1516.2 571.0,1511.5 571.7,1485.2 572.0,1473.0 572.4,1487.2 573.0,1506.7 573.6,1505.5 574.3,1509.2 575.0,1515.4 575.6,1488.7 576.0,1472.3 576.2,1482.6 576.9,1509.3 577.5,1516.2 578.2,1515.0 578.9,1515.2 579.5,1517.9 580.1,1514.8 580.8,1514.0 581.5,1516.1 582.1,1510.5 582.8,1494.2 582.8,1493.0 583.4,1508.0 584.0,1516.5 584.7,1517.2 585.4,1517.5 586.0,1516.0 586.6,1519.3 587.3,1517.8 588.0,1516.9 588.6,1520.3 589.2,1519.8 589.9,1517.7 590.5,1516.2 591.2,1518.7 591.9,1515.5 592.5,1512.8 593.1,1515.0 593.8,1516.3 594.5,1511.8 595.1,1506.1 595.8,1515.5 596.4,1507.2 597.0,1491.3 597.0,1492.6 597.7,1509.8 598.4,1510.1 599.0,1513.4 599.6,1518.4 600.3,1514.0 601.0,1516.0 601.6,1507.0 602.2,1507.6 602.9,1516.0 603.5,1517.8 604.2,1515.0 604.9,1514.6 605.5,1518.0 606.1,1513.5 606.8,1510.6 607.5,1519.3 608.1,1516.8 608.8,1516.1 609.4,1519.2 610.0,1519.2 610.7,1514.8 611.4,1514.3 612.0,1515.4 612.6,1511.6 613.3,1494.9 613.4,1492.3 614.0,1506.4 614.6,1510.2 615.2,1502.8 615.9,1510.9 616.5,1517.1 617.2,1490.8 617.9,1450.3 618.0,1441.0 618.5,1472.1 619.1,1512.6 619.8,1517.7 620.5,1517.2 621.1,1516.9 621.8,1516.9 622.4,1516.3 623.0,1517.9 623.7,1519.3 624.4,1517.8 625.0,1516.3 625.6,1517.2 626.3,1509.9 627.0,1515.3 627.6,1514.9 628.2,1514.9 628.9,1516.8 629.5,1481.2 630.2,1410.6 630.8,1345.4 630.9,1350.8 631.5,1421.4 632.1,1492.1 632.8,1519.0 633.5,1517.2 634.1,1518.0 634.8,1508.1 635.4,1509.0 636.0,1518.2 636.7,1516.0 637.4,1508.6 638.0,1491.3 638.6,1508.6 639.3,1511.8 640.0,1513.4 640.6,1515.6 641.2,1506.5 641.9,1509.5 642.5,1519.2 643.2,1515.8 643.9,1518.9 644.5,1514.8 645.1,1513.4 645.8,1514.7 646.5,1516.7 647.1,1515.9 647.8,1518.1 648.4,1519.3 649.0,1483.9 649.7,1409.3 650.4,1334.7 650.4,1329.0 651.0,1397.8 651.6,1472.4 652.3,1510.8 653.0,1446.5 653.6,1350.0 654.2,1253.4 654.5,1216.3 654.9,1275.7 655.5,1372.3 656.2,1468.8 656.9,1513.5 657.5,1495.2 657.7,1489.6 658.1,1502.3 658.8,1516.1 659.5,1518.6 660.1,1513.4 660.8,1502.7 661.4,1495.9 662.0,1470.0 662.0,1472.2 662.7,1500.2 663.4,1517.3 664.0,1520.3 664.6,1520.0 665.3,1513.2 666.0,1514.4 666.6,1516.1 667.2,1520.3 667.9,1518.8 668.5,1520.3 669.2,1517.4 669.9,1517.7 670.5,1519.4 671.1,1520.0 671.8,1516.0 672.5,1517.8 673.1,1518.2 673.8,1517.5 674.4,1520.9 675.0,1494.9 675.7,1449.6 676.0,1428.7 676.4,1453.1 677.0,1498.4 677.6,1514.7 678.3,1515.4 679.0,1516.5 679.6,1519.9 680.2,1517.1 680.9,1515.0 681.5,1510.8 682.2,1509.0 682.9,1490.5 683.4,1464.6 683.5,1469.3 684.1,1499.9 684.8,1508.9 685.5,1520.2 686.1,1519.8 686.8,1519.5 687.4,1520.6 688.0,1519.3 688.7,1518.9 689.4,1520.6 690.0,1520.3 690.6,1519.2 691.3,1519.9 692.0,1518.4 692.6,1519.1 693.2,1512.3 693.9,1513.2 694.5,1517.5 695.2,1519.3 695.9,1518.3 696.5,1519.4 697.1,1520.6 697.8,1519.5 698.5,1519.7 699.1,1520.9 699.8,1519.3 700.4,1516.3 701.0,1515.2 701.7,1518.7 702.4,1520.4 703.0,1520.1 703.6,1517.8 704.3,1519.8 705.0,1516.1 705.6,1517.0 706.2,1518.1 706.9,1519.5 707.5,1518.5 708.2,1520.6 708.9,1520.3 709.5,1518.1 710.1,1520.4 710.8,1519.5 711.5,1520.8 712.1,1519.0 712.8,1520.9 713.4,1518.7 714.0,1520.2 714.7,1518.9 715.4,1518.8 716.0,1520.6 716.6,1520.4 717.3,1519.6 718.0,1517.3 718.6,1513.3 719.2,1518.4 719.9,1515.3 720.5,1514.2 721.2,1512.3 721.9,1516.7 722.5,1520.7 723.1,1519.3 723.8,1520.0 724.5,1519.2 725.1,1519.2 725.8,1520.5 726.4,1512.9 727.0,1517.2 727.7,1519.0 728.4,1519.8 729.0,1516.5 729.6,1515.3 730.3,1500.0 730.5,1495.2 731.0,1506.0 731.6,1519.2 732.2,1516.6 732.9,1521.2 733.5,1517.2 734.1,1518.6 734.2,1516.9 734.9,1514.2 735.0,868.5 735.5,868.5 736.1,868.5 736.8,868.5 737.0,868.5 737.5,1509.4 737.6,1528.5 738.1,1497.7 738.6,1510.8 738.8,1509.6 739.4,1513.5 740.0,1512.4 740.7,1516.2 741.4,1521.0 742.0,1482.0 742.6,1414.0 743.2,1356.4 743.3,1366.9 744.0,1434.9 744.6,1502.9 745.2,1520.3 745.9,1520.1 746.5,1521.4 747.2,1516.7 747.9,1520.7 748.5,1510.5 749.1,1477.4 749.5,1459.6 749.8,1474.9 750.5,1508.0 751.1,1516.6 751.8,1515.8 752.4,1521.3 753.0,1515.8 753.7,1518.4 754.4,1517.1 755.0,1516.5 755.6,1503.5 756.0,1495.0 756.3,1502.3 757.0,1518.2 757.6,1520.0 758.2,1519.7 758.9,1514.8 759.5,1512.9 760.2,1517.4 760.9,1515.6 761.5,1512.3 762.1,1516.2 762.8,1514.9 763.5,1521.5 764.1,1521.7 764.8,1520.3 765.4,1516.2 766.0,1521.7 766.7,1521.7 767.4,1520.6 768.0,1519.8 768.6,1517.7 769.3,1520.9 770.0,1519.6 770.6,1516.1 771.2,1519.6 771.9,1520.4 772.5,1517.2 773.2,1517.9 773.9,1516.1 774.5,1503.9 774.8,1497.0 775.1,1505.0 775.8,1518.7 776.5,1519.9 777.1,1517.6 777.8,1520.5 778.4,1521.8 779.0,1516.1 779.7,1520.3 780.4,1521.9 781.0,1517.7 781.6,1518.1 782.3,1520.8 783.0,1518.9 783.6,1506.2 784.2,1512.5 784.9,1517.5 785.5,1519.6 786.2,1516.8 786.9,1520.5 787.5,1516.6 788.1,1518.9 788.8,1520.8 789.5,1518.6 790.1,1520.5 790.8,1520.5 791.4,1521.2 792.0,1519.0 792.4,1519.8 792.7,1482.3 793.4,1395.7 794.0,1309.1 794.3,1269.1 794.6,1222.5 794.8,1202.5 795.3,1269.1 796.0,1355.8 796.6,1442.4 797.2,1518.1 797.2,1520.5 797.9,1520.2 798.5,1512.2 799.2,1512.2 799.9,1515.4 800.5,1513.8 801.1,1495.6 801.4,1487.9 801.8,1500.2 802.5,1520.3 803.1,1522.0 803.8,1519.7 804.4,1519.6 805.0,1521.0 805.7,1520.0 806.4,1518.9 807.0,1521.8 807.6,1520.9 808.3,1513.4 808.7,1507.8 809.0,1511.3 809.6,1520.5 810.2,1521.1 810.9,1516.5 811.5,1515.9 812.2,1520.5 812.9,1518.6 813.5,1513.0 814.1,1515.8 814.8,1518.7 815.5,1521.4 816.1,1522.6 816.8,1518.5 817.4,1520.2 818.0,1517.2 818.7,1510.4 819.4,1515.0 820.0,1521.4 820.6,1522.6 821.3,1522.2 822.0,1521.6 822.6,1520.6 823.2,1520.0 823.9,1521.3 824.5,1521.4 825.2,1520.6 825.9,1522.1 826.5,1519.6 827.1,1521.5 827.8,1522.1 828.5,1519.6 829.1,1520.7 829.8,1515.5 830.4,1510.4 831.0,1511.6 831.7,1518.7 832.4,1521.5 833.0,1519.7 833.6,1520.5 834.3,1519.8 835.0,1520.6 835.6,1520.8 836.2,1520.4 836.9,1521.5 837.5,1520.8 838.2,1523.2 838.9,1521.4 839.5,1521.1 840.1,1519.7 840.8,1522.0 841.5,1510.2 842.0,1497.0 842.1,1499.4 842.8,1515.1 843.4,1520.7 844.0,1522.4 844.7,1517.0 845.4,1510.7 846.0,1516.7 846.6,1522.6 847.3,1521.4 848.0,1520.3 848.6,1520.4 849.2,1520.4 849.9,1522.0 850.5,1519.9 851.2,1522.5 851.9,1519.8 852.5,1523.3 853.1,1523.5 853.8,1523.2 854.5,1521.6 855.1,1520.4 855.8,1523.3 856.4,1521.9 857.0,1522.4 857.7,1515.3 858.4,1514.2 859.0,1517.4 859.6,1519.9 860.3,1521.8 861.0,1523.2 861.6,1522.5 862.2,1522.2 862.9,1521.7 863.5,1517.9 864.2,1519.1 864.9,1522.1 865.5,1523.7 866.1,1523.1 866.8,1521.6 867.5,1522.5 868.1,1522.8 868.8,1522.5 869.4,1520.2 870.0,1517.8 870.7,1521.8 871.4,1518.8 872.0,1519.0 872.6,1521.4 873.3,1521.8 874.0,1522.4 874.6,1523.1 875.2,1522.9 875.9,1521.7 876.5,1518.3 877.2,1521.3 877.9,1522.5 878.5,1522.4 879.1,1523.1 879.8,1522.3 880.5,1523.5 881.1,1523.8 881.8,1523.1 882.4,1522.5 883.0,1523.9 883.7,1523.1 884.4,1523.9 885.0,1522.9 885.6,1522.2 886.3,1522.7 887.0,1522.8 887.6,1523.1 888.2,1522.5 888.9,1522.0 889.5,1522.6 890.2,1523.6 890.9,1523.5 891.5,1521.8 892.1,1522.4 892.8,1521.1 893.5,1521.1 894.1,1520.7 894.8,1523.3 895.4,1518.8 896.0,1523.5 896.7,1522.2 897.4,1522.6 898.0,1522.6 898.6,1522.5 899.3,1522.1 900.0,1522.6 900.6,1523.9 901.2,1524.1 901.9,1522.9 902.5,1505.1 903.0,1492.0 903.2,1497.8 903.9,1516.7 904.5,1522.4 905.1,1524.3 905.8,1523.6 906.5,1524.3 907.1,1523.0 907.8,1523.4 908.4,1523.1 909.0,1522.6 909.7,1522.5 910.4,1522.7 911.0,1523.0 911.6,1522.7 912.3,1522.8 913.0,1523.1 913.6,1523.8 914.2,1522.7 914.9,1522.4 915.5,1522.6 916.2,1519.2 916.9,1520.7 917.5,1523.3 918.1,1523.5 918.8,1523.6 919.5,1520.6 920.1,1518.9 920.6,1513.8 920.8,1515.3 921.4,1521.9 922.0,1523.6 922.7,1523.5 923.4,1523.9 924.0,1521.8 924.6,1523.1 925.3,1523.8 926.0,1523.1 926.6,1523.9 927.2,1523.4 927.9,1523.4 928.5,1521.8 929.2,1518.8 929.9,1520.9 930.5,1520.6 931.1,1511.0 931.3,1508.8 931.8,1516.2 932.5,1524.0 933.1,1522.9 933.8,1523.0 934.4,1522.2 935.0,1520.5 935.7,1523.3 936.4,1523.5 937.0,1522.8 937.6,1522.5 938.3,1524.0 939.0,1522.8 939.6,1524.2 940.2,1524.3 940.9,1523.1 941.5,1524.1 942.2,1524.3 942.9,1524.1 943.5,1522.5 944.1,1524.2 944.8,1523.8 945.5,1522.5 946.1,1524.4 946.8,1522.7 947.4,1524.1 948.0,1523.0 948.7,1524.4 949.4,1524.4 950.0,1524.0 950.6,1524.1 951.3,1523.8 952.0,1522.4 952.6,1516.9 953.0,1512.2 953.2,1515.1 953.9,1521.7 954.5,1520.5 955.2,1522.4 955.9,1523.5 956.5,1521.0 957.1,1518.9 957.8,1515.0 958.0,1512.8 958.5,1517.8 959.1,1520.2 959.8,1520.9 960.4,1523.3 961.0,1523.1 961.7,1523.7 962.4,1524.2 963.0,1523.6 963.6,1522.9 964.3,1523.5 965.0,1523.8 965.6,1524.4 966.2,1518.6 966.9,1497.3 967.2,1487.5 967.5,1498.9 968.2,1520.2 968.9,1522.9 969.5,1521.4 970.1,1521.8 970.8,1522.9 971.5,1522.5 972.1,1521.5 972.8,1521.9 973.4,1520.5 974.0,1523.0 974.7,1523.5 975.4,1522.0 976.0,1521.3 976.6,1523.2 977.3,1523.6 978.0,1520.6 978.5,1516.2 978.6,1517.0 979.2,1522.2 979.9,1524.2 980.5,1522.2 981.2,1520.6 981.9,1521.6 982.5,1523.5 983.1,1522.2 983.8,1523.7 984.5,1522.7 985.1,1523.9 985.8,1521.1 986.4,1519.7 987.0,1520.4 987.7,1519.3 988.4,1520.2 989.0,1517.8 989.6,1520.8 990.3,1523.0 991.0,1524.3 991.6,1523.5 992.2,1522.9 992.9,1518.5 993.5,1522.9 994.2,1522.9 994.9,1522.4 995.5,1521.6 996.1,1521.4 996.8,1524.3 997.5,1524.5 998.1,1523.3 998.8,1522.8 999.4,1523.3 1000.0,1523.2 1000.7,1522.6 1001.4,1522.9 1002.0,1524.2 1002.6,1523.3 1003.3,1523.6 1004.0,1524.0 1004.6,1523.2 1005.2,1522.8 1005.9,1521.5 1006.5,1522.8 1007.2,1522.3 1007.9,1521.2 1008.5,1520.4 1009.1,1516.1 1009.5,1511.8 1009.8,1515.5 1010.5,1522.3 1011.1,1522.2 1011.8,1523.3 1012.4,1523.2 1013.0,1524.0 1013.7,1524.1 1014.4,1520.1 1015.0,1521.1 1015.6,1524.4 1016.3,1522.4 1017.0,1522.6 1017.6,1521.3 1018.2,1520.3 1018.9,1523.5 1019.5,1524.2 1020.2,1522.7 1020.9,1520.4 1021.5,1523.1 1022.1,1524.3 1022.8,1523.2 1023.5,1523.2 1024.1,1522.5 1024.8,1522.6 1025.4,1521.6 1026.0,1520.8 1026.7,1522.2 1027.3,1523.3 1028.0,1524.5 1028.7,1524.7 1029.3,1524.6 1030.0,1524.8 1030.6,1524.2 1031.2,1522.6 1031.9,1523.0 1032.5,1524.1 1033.2,1524.7 1033.8,1524.1 1034.5,1522.1 1035.2,1520.7 1035.8,1518.7 1036.5,1522.7 1037.1,1523.0 1037.8,1522.4 1038.4,1522.4 1039.0,1521.5 1039.7,1522.8 1040.3,1524.4 1041.0,1524.1 1041.7,1523.5 1042.3,1524.3 1043.0,1523.8 1043.6,1524.7 1044.2,1523.9 1044.9,1525.1 1045.5,1524.1 1046.2,1523.4 1046.8,1525.0 1047.5,1525.1 1048.2,1524.2 1048.8,1524.2 1049.5,1523.8 1050.1,1524.2 1050.8,1522.5 1051.4,1520.5 1052.0,1520.6 1052.7,1517.5 1053.3,1500.9 1053.5,1497.0 1054.0,1509.8 1054.7,1524.8 1055.3,1523.9 1056.0,1524.1 1056.6,1523.5 1057.2,1524.9 1057.9,1524.9 1058.5,1521.7 1059.2,1520.9 1059.8,1520.7 1060.5,1520.5 1061.2,1521.5 1061.8,1524.0 1062.5,1525.2 1063.1,1523.3 1063.8,1523.1 1064.4,1519.5 1065.0,1519.9 1065.7,1520.6 1066.3,1519.4 1067.0,1522.3 1067.7,1522.7 1068.3,1520.7 1069.0,1523.9 1069.6,1525.1 1070.2,1524.3 1070.9,1524.0 1071.5,1525.1 1072.2,1525.1 1072.8,1525.2 1073.5,1524.0 1074.2,1523.8 1074.8,1525.1 1075.5,1523.4 1076.1,1523.7 1076.8,1524.5 1077.4,1523.5 1078.0,1523.2 1078.7,1518.5 1078.8,1517.8 1079.3,1521.8 1080.0,1524.8 1080.7,1524.2 1081.3,1524.3 1082.0,1524.0 1082.6,1524.0 1083.2,1524.3 1083.9,1525.2 1084.5,1520.9 1085.2,1522.9 1085.8,1525.1 1086.5,1524.8 1087.2,1521.9 1087.8,1521.4 1088.5,1524.2 1089.1,1523.7 1089.8,1522.3 1090.4,1518.5 1091.0,1521.1 1091.7,1521.3 1092.3,1524.3 1093.0,1523.8 1093.7,1524.7 1094.3,1522.9 1095.0,1522.4 1095.6,1524.1 1096.2,1524.5 1096.9,1524.7 1097.5,1524.0 1098.2,1523.5 1098.8,1525.0 1099.5,1525.1 1100.2,1524.1 1100.8,1520.3 1101.5,1520.2 1102.1,1523.3 1102.8,1524.8 1103.4,1524.4 1104.0,1523.4 1104.7,1512.7 1105.0,1507.8 1105.3,1513.5 1106.0,1524.2 1106.7,1524.1 1107.3,1524.7 1108.0,1524.6 1108.6,1525.1 1109.2,1523.7 1109.9,1524.0 1110.5,1523.0 1111.2,1522.6 1111.8,1524.3 1112.5,1523.6 1113.2,1525.0 1113.8,1523.8 1114.5,1525.2 1115.1,1523.7 1115.8,1525.0 1116.4,1524.4 1117.0,1524.0 1117.7,1524.2 1118.3,1523.3 1119.0,1523.4 1119.7,1522.4 1120.3,1523.2 1121.0,1524.8 1121.6,1524.3 1122.2,1524.2 1122.9,1523.9 1123.5,1524.0 1124.2,1524.0 1124.8,1522.8 1125.5,1521.7 1126.2,1523.2 1126.8,1522.0 1127.5,1523.6 1128.1,1524.3 1128.8,1524.8 1129.4,1525.0 1130.0,1524.5 1130.7,1525.2 1131.3,1525.1 1132.0,1524.5 1132.7,1524.3 1133.3,1524.9 1134.0,1524.6 1134.6,1524.3 1135.2,1522.8 1135.9,1522.9 1136.5,1525.1 1137.2,1524.7 1137.8,1524.5 1138.5,1525.0 1139.2,1524.4 1139.8,1525.0 1140.5,1524.9 1141.1,1525.1 1141.8,1525.0 1142.4,1524.4 1143.0,1524.8 1143.7,1524.8 1144.3,1524.7 1145.0,1524.9 1145.7,1524.7 1146.3,1524.6 1147.0,1525.1 1147.6,1524.8 1148.2,1525.1 1148.9,1525.2 1149.5,1524.6 1150.2,1524.3 1150.8,1523.9 1151.5,1523.7 1152.2,1524.2 1152.8,1524.0 1153.5,1524.8 1154.1,1524.1 1154.8,1524.6 1155.4,1524.6 1156.0,1524.5 1156.7,1520.1 1157.0,1518.0 1157.3,1520.5 1158.0,1524.6 1158.7,1525.1 1159.3,1525.1 1160.0,1524.5 1160.6,1525.1 1161.2,1525.1 1161.9,1524.8 1162.5,1525.1 1163.2,1525.1 1163.8,1525.0 1164.5,1525.0 1165.2,1525.0 1165.8,1523.7 1166.5,1524.1 1167.1,1524.8 1167.8,1524.4 1168.4,1524.8 1169.0,1525.2 1169.7,1525.2 1170.3,1524.5 1171.0,1524.0 1171.7,1522.9 1172.3,1524.6 1173.0,1525.0 1173.6,1524.9 1174.2,1525.0 1174.9,1524.6 1175.5,1523.9 1176.2,1524.5 1176.8,1524.6 1177.5,1524.8 1178.2,1525.0 1178.8,1525.2 1179.5,1524.7 1180.1,1524.3 1180.8,1524.6 1181.4,1524.3 1182.0,1524.5 1182.7,1524.3 1183.3,1524.3 1184.0,1524.3 1184.7,1524.6 1185.3,1524.4 1186.0,1524.8 1186.6,1525.2 1187.2,1525.2 1187.9,1524.8 1188.5,1525.2 1189.2,1525.2 1189.8,1524.9 1190.5,1525.1 1191.2,1525.2 1191.8,1524.4 1192.5,1524.8 1193.1,1524.3 1193.8,1524.4 1194.4,1524.9 1195.0,1525.1 1195.7,1525.0 1196.3,1524.3 1197.0,1524.5 1197.7,1524.9 1198.3,1524.5 1199.0,1524.5 1199.6,1524.8 1200.2,1525.2 1200.9,1524.3 1201.5,1524.8 1202.2,1524.6 1202.8,1525.1 1203.5,1524.8 1204.2,1525.0 1204.8,1525.1 1205.5,1524.3 1206.1,1525.2 1206.8,1524.5 1207.4,1525.0 1208.0,1524.3 1208.7,1524.6 1209.3,1525.1 1210.0,1524.8 1210.7,1523.2 1211.3,1522.8 1212.0,1524.3 1212.6,1522.0 1213.2,1523.1 1213.9,1524.2 1214.5,1525.2 1215.2,1524.7 1215.8,1524.8 1216.5,1524.3 1217.2,1525.1 1217.8,1525.0 1218.5,1524.5 1219.1,1525.2 1219.8,1525.1 1220.4,1524.4 1221.0,1524.6 1221.7,1524.8 1222.3,1524.7 1223.0,1525.0 1223.7,1525.1 1224.3,1525.2 1225.0,1524.1 1225.6,1524.2 1226.2,1523.4 1226.9,1520.2 1227.0,1519.7 1227.5,1522.7 1228.2,1524.5 1228.8,1525.0 1229.5,1524.5 1230.2,1523.6 1230.8,1523.8 1231.5,1525.0 1232.1,1525.0 1232.8,1524.6 1233.4,1525.2 1234.0,1524.9 1234.7,1524.3 1235.3,1524.8 1236.0,1525.2 1236.7,1525.0 1237.3,1525.1 1238.0,1524.6 1238.6,1524.4 1239.2,1525.0 1239.9,1524.3 1240.5,1524.9 1241.2,1525.2 1241.8,1524.6 1242.5,1525.1 1243.2,1524.4 1243.8,1524.5 1244.5,1524.7 1245.1,1524.6 1245.8,1524.9 1246.4,1524.4 1247.0,1524.5 1247.7,1524.9 1248.3,1525.0 1249.0,1525.1 1249.7,1524.7 1250.3,1524.4 1251.0,1525.0 1251.6,1525.0 1252.2,1525.1 1252.9,1525.2 1253.5,1524.8 1254.2,1524.4 1254.8,1524.9 1255.5,1524.9 1256.2,1524.5 1256.8,1524.8 1257.5,1524.5 1258.1,1524.3 1258.8,1524.6 1259.4,1524.8 1260.0,1525.2 1260.7,1525.2 1261.3,1524.5 1262.0,1525.2 1262.7,1524.8 1263.3,1525.2 1264.0,1524.5 1264.6,1524.6 1265.2,1525.1 1265.9,1524.5 1266.5,1524.8 1267.2,1524.9 1267.8,1524.5 1268.5,1524.1 1269.2,1525.1 1269.8,1524.5 1270.5,1524.6 1271.1,1523.8 1271.8,1524.9 1272.4,1524.9 1273.0,1524.3 1273.7,1525.2 1274.3,1525.1 1275.0,1524.8 1275.7,1525.1 1276.3,1524.8 1277.0,1525.1 1277.6,1525.3 1278.2,1525.1 1278.9,1525.2 1279.5,1524.5 1280.2,1525.1 1280.8,1525.1 1281.5,1525.3 1282.2,1524.8 1282.8,1525.3 1283.5,1524.8 1284.1,1524.5 1284.8,1524.6 1285.4,1524.5 1286.0,1524.8 1286.7,1525.1 1287.3,1524.5 1288.0,1524.8 1288.7,1524.3 1289.3,1524.4 1290.0,1525.0 1290.6,1524.4 1291.2,1524.5 1291.9,1524.6 1292.5,1524.3 1293.2,1524.4 1293.8,1524.7 1294.5,1524.6 1295.2,1525.0 1295.8,1524.5 1296.5,1524.6 1297.1,1525.0 1297.8,1524.9 1298.4,1524.6 1299.0,1525.0 1299.7,1524.6 1300.3,1525.1 1301.0,1525.2 1301.7,1525.2 1302.3,1524.8 1303.0,1525.0 1303.6,1524.6 1304.2,1525.2 1304.9,1524.5 1305.5,1525.0 1306.2,1524.4 1306.8,1524.4 1307.5,1524.7 1308.2,1524.4 1308.8,1524.8 1309.5,1524.6 1310.1,1524.0 1310.8,1523.6 1311.4,1524.2 1312.0,1524.7 1312.7,1524.6 1313.3,1525.2 1314.0,1525.3 1314.7,1525.1 1315.3,1524.9 1316.0,1525.0 1316.6,1522.9 1317.0,1521.4 1317.2,1522.4 1317.9,1524.8 1318.5,1524.4 1319.2,1524.5 1319.8,1524.4 1320.5,1524.9 1321.2,1525.1 1321.8,1524.7 1322.5,1524.3 1323.1,1524.9 1323.8,1524.6 1324.4,1525.2 1325.0,1525.2 1325.7,1524.9 1326.3,1524.7 1327.0,1524.6 1327.7,1525.0 1328.3,1525.2 1329.0,1524.5 1329.6,1524.6 1330.2,1524.9 1330.9,1524.7 1331.5,1524.9 1332.2,1524.4 1332.8,1524.8 1333.5,1524.6 1334.2,1524.3 1334.8,1524.5 1335.5,1524.7 1336.1,1524.8 1336.8,1524.6 1337.4,1525.1 1338.0,1525.0 1338.7,1524.7 1339.3,1525.1 1340.0,1525.0 1340.7,1524.6 1341.3,1524.7 1342.0,1524.7 1342.6,1525.2 1343.2,1524.8 1343.9,1525.3 1344.5,1525.2 1345.2,1524.6 1345.8,1524.7 1346.5,1525.0 1347.2,1524.7 1347.8,1522.2 1348.0,1521.4 1348.5,1523.1 1349.1,1524.9 1349.8,1525.1 1350.4,1524.7 1351.0,1524.5 1351.7,1524.9 1352.3,1523.9 1353.0,1521.4 1353.7,1522.6 1354.3,1523.9 1355.0,1524.7 1355.6,1524.5 1356.2,1524.7 1356.9,1525.2 1357.5,1524.5 1358.2,1524.3 1358.8,1524.3 1359.5,1524.3 1360.2,1524.3 1360.8,1525.0 1361.5,1525.3 1362.1,1525.2 1362.8,1525.3 1363.4,1525.1 1364.0,1525.1 1364.7,1525.2 1365.3,1524.7 1366.0,1524.7 1366.7,1524.6 1367.3,1524.4 1368.0,1524.6 1368.6,1525.1 1369.2,1524.9 1369.9,1524.8 1370.5,1524.7 1371.2,1525.1 1371.8,1524.1 1372.5,1524.9 1373.2,1524.7 1373.8,1524.7 1374.5,1524.9 1375.1,1524.6 1375.8,1524.8 1376.4,1524.6 1377.0,1524.4 1377.7,1525.1 1378.3,1524.8 1379.0,1525.0 1379.7,1525.2 1380.3,1524.4 1381.0,1523.4 1381.6,1524.1 1382.2,1524.8 1382.9,1524.8 1383.5,1525.2 1384.2,1522.1 1384.7,1519.0 1384.8,1519.9 1385.5,1523.9 1386.2,1524.9 1386.8,1525.3 1387.5,1525.2 1388.1,1521.6 1388.7,1516.4 1388.8,1516.8 1389.4,1522.4 1390.0,1524.5 1390.7,1524.6 1391.3,1525.1 1392.0,1524.3 1392.7,1524.8 1393.3,1525.3 1394.0,1524.9 1394.6,1525.1 1395.2,1524.5 1395.9,1524.5 1396.5,1524.6 1397.2,1524.6 1397.8,1524.0 1398.5,1524.9 1399.2,1525.2 1399.8,1524.4 1400.5,1523.7 1401.1,1523.7 1401.8,1524.4 1402.4,1525.3 1403.0,1525.4 1403.7,1524.7 1404.3,1524.8 1405.0,1524.8 1405.7,1525.3 1406.3,1525.4 1407.0,1524.8 1407.6,1525.4 1408.2,1524.7 1408.9,1525.0 1409.5,1525.2 1410.2,1525.6 1410.8,1525.3 1411.5,1525.4 1412.2,1524.9 1412.8,1525.0 1413.5,1525.1 1414.1,1525.1 1414.8,1524.9 1415.4,1524.8 1416.0,1525.0 1416.7,1525.7 1417.3,1525.7 1418.0,1525.0 1418.7,1525.5 1419.3,1525.6 1420.0,1525.6 1420.6,1525.5 1421.2,1525.6 1421.9,1525.8 1422.5,1525.2 1423.2,1525.7 1423.8,1525.8 1424.5,1525.4 1425.2,1526.0 1425.8,1526.0 1426.5,1525.4 1427.1,1525.7 1427.8,1525.6 1428.4,1525.2 1429.0,1526.0 1429.7,1525.6 1430.3,1525.2 1431.0,1525.9 1431.7,1525.7 1432.3,1526.0 1433.0,1526.2 1433.6,1525.7 1434.2,1526.0 1434.9,1525.7 1435.5,1525.5 1436.2,1526.1 1436.8,1526.3 1437.5,1526.4 1438.2,1526.3 1438.8,1526.5 1439.5,1526.4 1440.1,1526.0 1440.8,1526.3 1441.4,1526.5 1442.0,1526.2 1442.7,1526.4 1443.3,1525.9 1444.0,1525.8 1444.7,1523.2 1445.0,1521.4 1445.3,1523.0 1446.0,1526.3 1446.6,1526.6 1447.2,1526.6 1447.9,1526.5 1448.5,1526.7 1449.2,1526.8 1449.8,1525.9 1450.5,1526.3 1451.2,1526.7 1451.8,1526.1 1452.5,1526.8 1453.1,1526.3 1453.8,1525.9 1454.4,1526.8 1455.0,1526.8 1455.7,1526.8 1456.3,1519.8 1457.0,1501.9 1457.2,1496.4 1457.7,1508.8 1458.3,1526.6 1459.0,1526.6 1459.6,1526.4 1460.2,1526.1 1460.9,1526.4 1461.5,1526.5 1462.2,1525.9 1462.8,1525.8 1463.5,1525.9 1464.2,1526.8 1464.8,1526.4 1465.5,1526.6 1466.1,1526.3 1466.8,1526.8 1467.4,1526.6 1468.0,1526.9 1468.7,1526.2 1469.3,1526.7 1470.0,1526.7 1470.7,1526.2 1471.3,1526.2 1472.0,1526.2 1472.6,1526.5 1473.2,1525.5 1473.9,1526.3 1474.5,1526.8 1475.2,1526.8 1475.8,1526.6 1476.5,1526.6 1477.2,1526.8 1477.8,1526.6 1478.5,1526.9 1479.1,1526.8 1479.8,1526.7 1480.4,1526.8 1481.0,1526.7 1481.7,1527.0 1482.3,1526.7 1483.0,1526.3 1483.7,1526.3 1484.3,1524.3 1485.0,1526.7 1485.6,1526.5 1486.2,1526.7 1486.9,1527.0 1487.5,1526.8 1488.2,1527.0 1488.8,1526.6 1489.5,1526.4 1490.2,1526.8 1490.8,1527.0 1491.5,1526.6 1492.1,1526.7 1492.8,1526.8 1493.4,1526.8 1494.0,1526.3 1494.7,1526.5 1495.3,1527.1 1496.0,1527.0 1496.7,1526.4 1497.3,1527.0 1498.0,1526.6 1498.6,1527.1 1499.2,1526.2 1499.9,1526.0 1500.5,1525.6 1501.2,1526.7 1501.8,1526.2 1502.5,1526.6 1503.2,1526.8 1503.8,1526.1 1504.5,1527.1 1505.1,1526.3 1505.8,1526.8 1506.4,1526.5 1507.0,1526.6 1507.7,1527.1 1508.3,1526.7 1509.0,1527.0 1509.7,1527.1 1510.3,1526.7 1511.0,1526.5 1511.6,1527.0 1512.2,1526.4 1512.9,1526.5 1513.5,1525.3 1514.2,1525.8 1514.8,1526.6 1515.5,1526.2 1516.2,1526.7 1516.8,1527.1 1517.5,1526.6 1518.1,1526.3 1518.8,1526.7 1519.4,1527.2 1520.0,1526.5 1520.7,1526.8 1521.3,1526.6 1522.0,1526.8 1522.7,1526.4 1523.3,1526.9 1524.0,1526.9 1524.6,1527.2 1525.2,1526.5 1525.9,1526.2 1526.5,1525.3 1527.2,1524.6 1527.8,1526.4 1528.5,1526.4 1529.2,1527.1 1529.8,1526.6 1530.5,1527.0 1531.1,1526.4 1531.8,1526.3 1532.4,1527.0 1533.0,1526.5 1533.7,1526.8 1534.3,1527.0 1535.0,1527.3 1535.7,1527.2 1536.3,1527.1 1537.0,1527.3 1537.6,1526.7 1538.2,1527.1 1538.9,1526.5 1539.5,1526.5 1540.2,1526.7 1540.8,1527.1 1541.5,1526.6 1542.2,1526.6 1542.8,1526.7 1543.5,1527.0 1544.1,1527.1 1544.8,1527.2 1545.4,1526.8 1546.0,1526.6 1546.7,1526.6 1547.3,1527.1 1548.0,1527.1 1548.7,1527.2 1549.3,1527.4 1550.0,1526.7 1550.6,1526.4 1551.2,1527.0 1551.9,1527.2 1552.5,1526.4 1553.2,1526.1 1553.8,1525.6 1554.5,1525.8 1555.2,1526.5 1555.8,1526.5 1556.5,1527.0 1557.1,1526.7 1557.8,1527.1 1558.4,1527.4 1559.0,1527.2 1559.7,1527.2 1560.3,1527.2 1561.0,1527.4 1561.7,1526.8 1562.3,1527.5 1563.0,1527.4 1563.6,1527.5 1564.2,1526.6 1564.9,1524.3 1565.0,1524.0 1565.5,1525.9 1566.2,1526.4 1566.8,1527.0 1567.5,1527.0 1568.2,1526.7 1568.8,1527.0 1569.5,1526.7 1570.1,1527.2 1570.8,1527.1 1571.4,1527.2 1572.0,1527.1 1572.7,1527.1 1573.3,1527.0 1574.0,1525.7 1574.7,1525.9 1575.3,1525.5 1576.0,1524.6 1576.6,1525.5 1577.2,1527.3 1577.9,1527.4 1578.5,1527.5 1579.2,1527.1 1579.8,1526.7 1580.5,1527.4 1581.2,1527.0 1581.8,1527.0 1582.5,1526.7 1583.1,1527.1 1583.8,1527.6 1584.4,1527.5 1585.0,1526.7 1585.7,1527.1 1586.3,1526.9 1587.0,1526.0 1587.7,1525.8 1588.3,1527.4 1589.0,1526.7 1589.6,1526.5 1590.2,1525.6 1590.9,1525.9 1591.5,1526.8 1592.2,1527.5 1592.8,1527.6 1593.5,1527.4 1594.2,1526.9 1594.8,1527.0 1595.5,1527.3 1596.1,1526.5 1596.8,1527.5 1597.4,1526.8 1598.0,1527.3 1598.7,1527.3 1599.3,1527.2 1600.0,1526.7 1600.7,1527.6 1601.3,1527.1 1602.0,1526.8 1602.6,1527.0 1603.2,1527.5 1603.9,1527.1 1604.5,1527.1 1605.2,1526.8 1605.8,1527.2 1606.5,1527.0 1607.2,1527.0 1607.8,1527.7 1608.5,1527.2 1609.1,1527.0 1609.8,1526.8 1610.4,1527.7 1611.0,1527.2 1611.7,1527.3 1612.3,1527.6 1613.0,1526.8 1613.7,1527.7 1614.3,1527.0 1615.0,1527.5 1615.6,1527.7 1616.2,1527.7 1616.9,1527.6 1617.5,1527.3" fill="none" stroke="#000" stroke-width="1.5" stroke-linejoin="miter" clip-path="url(#c2)"/>
<path d="M158.9,908.5 H1618.2 V1532.6 M170.0,908.5 V1542.8999999999999 M158.9,1532.6 H1618.2" fill="none" stroke="#000" stroke-width="2.7"/>
<line x1="158.9" y1="1532.6" x2="170.0" y2="1532.6" stroke="#000" stroke-width="2.7"/>
<line x1="158.9" y1="1376.6" x2="170.0" y2="1376.6" stroke="#000" stroke-width="2.7"/>
<line x1="158.9" y1="1220.5" x2="170.0" y2="1220.5" stroke="#000" stroke-width="2.7"/>
<line x1="158.9" y1="1064.5" x2="170.0" y2="1064.5" stroke="#000" stroke-width="2.7"/>
<line x1="158.9" y1="908.5" x2="170.0" y2="908.5" stroke="#000" stroke-width="2.7"/>
<line x1="330.6" y1="1532.6" x2="330.6" y2="1542.8999999999999" stroke="#000" stroke-width="2.7"/>
<line x1="491.6" y1="1532.6" x2="491.6" y2="1542.8999999999999" stroke="#000" stroke-width="2.7"/>
<line x1="652.5" y1="1532.6" x2="652.5" y2="1542.8999999999999" stroke="#000" stroke-width="2.7"/>
<line x1="813.5" y1="1532.6" x2="813.5" y2="1542.8999999999999" stroke="#000" stroke-width="2.7"/>
<line x1="974.4" y1="1532.6" x2="974.4" y2="1542.8999999999999" stroke="#000" stroke-width="2.7"/>
<line x1="1135.4" y1="1532.6" x2="1135.4" y2="1542.8999999999999" stroke="#000" stroke-width="2.7"/>
<line x1="1296.3" y1="1532.6" x2="1296.3" y2="1542.8999999999999" stroke="#000" stroke-width="2.7"/>
<line x1="1457.3" y1="1532.6" x2="1457.3" y2="1542.8999999999999" stroke="#000" stroke-width="2.7"/>
<line x1="1618.2" y1="1532.6" x2="1618.2" y2="1542.8999999999999" stroke="#000" stroke-width="2.7"/>
<text transform="translate(136.2,1544.4) scale(0.945,1)" font-size="39" font-weight="bold" text-anchor="end">0</text>
<text transform="translate(136.2,1388.4) scale(0.945,1)" font-size="39" font-weight="bold" text-anchor="end">0.005</text>
<text transform="translate(136.2,1232.3) scale(0.945,1)" font-size="39" font-weight="bold" text-anchor="end">0.01</text>
<text transform="translate(136.2,1076.3) scale(0.945,1)" font-size="39" font-weight="bold" text-anchor="end">0.015</text>
<text transform="translate(136.2,920.3) scale(0.945,1)" font-size="39" font-weight="bold" text-anchor="end">0.02</text>
<text x="169.7" y="840.6" font-size="33.8" font-weight="bold" text-anchor="middle">1000</text>
<text x="169.7" y="1583.3" font-size="33.8" font-weight="bold" text-anchor="middle">1000</text>
<text x="330.6" y="840.6" font-size="33.8" font-weight="bold" text-anchor="middle">1500</text>
<text x="330.6" y="1583.3" font-size="33.8" font-weight="bold" text-anchor="middle">1500</text>
<text x="491.6" y="840.6" font-size="33.8" font-weight="bold" text-anchor="middle">2000</text>
<text x="491.6" y="1583.3" font-size="33.8" font-weight="bold" text-anchor="middle">2000</text>
<text x="652.5" y="840.6" font-size="33.8" font-weight="bold" text-anchor="middle">2500</text>
<text x="652.5" y="1583.3" font-size="33.8" font-weight="bold" text-anchor="middle">2500</text>
<text x="813.5" y="840.6" font-size="33.8" font-weight="bold" text-anchor="middle">3000</text>
<text x="813.5" y="1583.3" font-size="33.8" font-weight="bold" text-anchor="middle">3000</text>
<text x="974.4" y="840.6" font-size="33.8" font-weight="bold" text-anchor="middle">3500</text>
<text x="974.4" y="1583.3" font-size="33.8" font-weight="bold" text-anchor="middle">3500</text>
<text x="1135.4" y="840.6" font-size="33.8" font-weight="bold" text-anchor="middle">4000</text>
<text x="1135.4" y="1583.3" font-size="33.8" font-weight="bold" text-anchor="middle">4000</text>
<text x="1296.3" y="840.6" font-size="33.8" font-weight="bold" text-anchor="middle">4500</text>
<text x="1296.3" y="1583.3" font-size="33.8" font-weight="bold" text-anchor="middle">4500</text>
<text x="1457.3" y="840.6" font-size="33.8" font-weight="bold" text-anchor="middle">5000</text>
<text x="1457.3" y="1583.3" font-size="33.8" font-weight="bold" text-anchor="middle">5000</text>
<text x="1618.2" y="840.6" font-size="33.8" font-weight="bold" text-anchor="middle">5500</text>
<text x="1618.2" y="1583.3" font-size="33.8" font-weight="bold" text-anchor="middle">5500</text>
<text transform="translate(43.2,453.5) rotate(-90)" font-size="47" font-weight="bold" text-anchor="middle">Intensity</text>
<text transform="translate(50.2,1219.4) rotate(-90)" font-size="47" font-weight="bold" text-anchor="middle">Intensity</text>
<text x="895.5" y="1650.8" font-size="53" font-weight="bold" text-anchor="middle">m/z</text>
<text x="1255.8" y="171.4" font-size="47" font-weight="bold" font-family="'Liberation Serif', 'Times New Roman', serif" textLength="339.7" lengthAdjust="spacingAndGlyphs">Early recurrence</text>
<text x="1285.6" y="964" font-size="47" font-weight="bold" font-family="'Liberation Serif', 'Times New Roman', serif" textLength="318" lengthAdjust="spacingAndGlyphs">Late recurrence</text>
<text transform="translate(661.2,375.5) rotate(-90)" font-size="35" font-weight="bold" font-family="'Liberation Serif', 'Times New Roman', serif" textLength="174.6" lengthAdjust="spacingAndGlyphs">2496.908598</text>
<line x1="650.1" y1="381" x2="650.1" y2="414" stroke="#000" stroke-width="3.6"/>
<text transform="translate(724.2,698.6) rotate(-90)" font-size="35" font-weight="bold" font-family="'Liberation Serif', 'Times New Roman', serif" textLength="173.4" lengthAdjust="spacingAndGlyphs">2697.984489</text>
<line x1="714.8" y1="703.1" x2="714.8" y2="736.7" stroke="#000" stroke-width="3.6"/>
<text transform="translate(838.0,710.2) rotate(-90)" font-size="35" font-weight="bold" font-family="'Liberation Serif', 'Times New Roman', serif" textLength="157.3" lengthAdjust="spacingAndGlyphs">3034.15095</text>
<line x1="823.4" y1="721.2" x2="823.4" y2="754.7" stroke="#000" stroke-width="3.6"/>
<text transform="translate(1052.3,723.0) rotate(-90)" font-size="35" font-weight="bold" font-family="'Liberation Serif', 'Times New Roman', serif" textLength="182.9" lengthAdjust="spacingAndGlyphs">3710.089335</text>
<line x1="1041.3" y1="730.1" x2="1041.3" y2="763.2" stroke="#000" stroke-width="3.6"/>
<text transform="translate(1240.8,712.3) rotate(-90)" font-size="35" font-weight="bold" font-family="'Liberation Serif', 'Times New Roman', serif" textLength="173.7" lengthAdjust="spacingAndGlyphs">4288.621730</text>
<line x1="1229.3" y1="720.2" x2="1229.3" y2="752.9" stroke="#000" stroke-width="3.6"/>
<line x1="649.6" y1="672" x2="649.6" y2="1517" stroke="#000" stroke-width="1.1" stroke-dasharray="3.2,2.8"/>
<line x1="714.5" y1="764" x2="714.5" y2="1517" stroke="#000" stroke-width="1.1" stroke-dasharray="3.2,2.8"/>
<line x1="823.6" y1="770" x2="823.6" y2="1520" stroke="#000" stroke-width="1.1" stroke-dasharray="3.2,2.8"/>
<line x1="1041.5" y1="779" x2="1041.5" y2="1522.5" stroke="#000" stroke-width="1.1" stroke-dasharray="3.2,2.8"/>
<line x1="1228.0" y1="780" x2="1228.0" y2="1522.5" stroke="#000" stroke-width="1.1" stroke-dasharray="3.2,2.8"/>
<text x="10.8" y="1761.5" font-size="78.5" font-weight="bold" font-family="Carlito, Calibri, 'Liberation Sans', sans-serif">B</text>
<text x="268.7" y="1817.8" font-size="26.3" font-weight="bold" text-anchor="middle">Scores Plot</text>
<line x1="122.5" y1="1838.2" x2="122.5" y2="2294.7" stroke="#cfcfcf" stroke-width="1" stroke-dasharray="2,3"/>
<line x1="174.4" y1="1838.2" x2="174.4" y2="2294.7" stroke="#cfcfcf" stroke-width="1" stroke-dasharray="2,3"/>
<line x1="226.3" y1="1838.2" x2="226.3" y2="2294.7" stroke="#cfcfcf" stroke-width="1" stroke-dasharray="2,3"/>
<line x1="278.2" y1="1838.2" x2="278.2" y2="2294.7" stroke="#cfcfcf" stroke-width="1" stroke-dasharray="2,3"/>
<line x1="330.1" y1="1838.2" x2="330.1" y2="2294.7" stroke="#cfcfcf" stroke-width="1" stroke-dasharray="2,3"/>
<line x1="382.0" y1="1838.2" x2="382.0" y2="2294.7" stroke="#cfcfcf" stroke-width="1" stroke-dasharray="2,3"/>
<line x1="433.9" y1="1838.2" x2="433.9" y2="2294.7" stroke="#cfcfcf" stroke-width="1" stroke-dasharray="2,3"/>
<line x1="69.0" y1="1911.6" x2="463.4" y2="1911.6" stroke="#cfcfcf" stroke-width="1" stroke-dasharray="2,3"/>
<line x1="69.0" y1="2012.2" x2="463.4" y2="2012.2" stroke="#cfcfcf" stroke-width="1" stroke-dasharray="2,3"/>
<line x1="69.0" y1="2112.8" x2="463.4" y2="2112.8" stroke="#cfcfcf" stroke-width="1" stroke-dasharray="2,3"/>
<line x1="69.0" y1="2213.4" x2="463.4" y2="2213.4" stroke="#cfcfcf" stroke-width="1" stroke-dasharray="2,3"/>
<ellipse cx="183.8" cy="2012.2" rx="65.9" ry="112.6" fill="#f9d0db"/>
<ellipse cx="349.8" cy="2012.0" rx="68.6" ry="78.5" fill="#d9efd9"/>
<circle cx="162.4" cy="1890.5" r="5.0" fill="#e6194b" fill-opacity="0.47" stroke="#000" stroke-opacity="0.75" stroke-width="1.4"/>
<circle cx="183.8" cy="1885.4" r="5.0" fill="#e6194b" fill-opacity="0.47" stroke="#000" stroke-opacity="0.75" stroke-width="1.4"/>
<circle cx="183.8" cy="1895.6" r="5.0" fill="#e6194b" fill-opacity="0.47" stroke="#000" stroke-opacity="0.75" stroke-width="1.4"/>
<circle cx="123.5" cy="1918.1" r="5.0" fill="#e6194b" fill-opacity="0.47" stroke="#000" stroke-opacity="0.75" stroke-width="1.4"/>
<circle cx="133.3" cy="1930.1" r="5.0" fill="#e6194b" fill-opacity="0.47" stroke="#000" stroke-opacity="0.75" stroke-width="1.4"/>
<circle cx="143.5" cy="1936.2" r="5.0" fill="#e6194b" fill-opacity="0.47" stroke="#000" stroke-opacity="0.75" stroke-width="1.4"/>
<circle cx="198.3" cy="1925.4" r="5.0" fill="#e6194b" fill-opacity="0.47" stroke="#000" stroke-opacity="0.75" stroke-width="1.4"/>
<circle cx="197.2" cy="1940.6" r="5.0" fill="#e6194b" fill-opacity="0.47" stroke="#000" stroke-opacity="0.75" stroke-width="1.4"/>
<circle cx="152.5" cy="1957.0" r="5.0" fill="#e6194b" fill-opacity="0.47" stroke="#000" stroke-opacity="0.75" stroke-width="1.4"/>
<circle cx="156.2" cy="2064.1" r="5.0" fill="#e6194b" fill-opacity="0.47" stroke="#000" stroke-opacity="0.75" stroke-width="1.4"/>
<circle cx="169.6" cy="2201.7" r="5.0" fill="#e6194b" fill-opacity="0.47" stroke="#000" stroke-opacity="0.75" stroke-width="1.4"/>
<circle cx="192.5" cy="2217.7" r="5.0" fill="#e6194b" fill-opacity="0.47" stroke="#000" stroke-opacity="0.75" stroke-width="1.4"/>
<circle cx="174.3" cy="2233.0" r="5.0" fill="#e6194b" fill-opacity="0.47" stroke="#000" stroke-opacity="0.75" stroke-width="1.4"/>
<circle cx="187.8" cy="2247.5" r="5.0" fill="#e6194b" fill-opacity="0.47" stroke="#000" stroke-opacity="0.75" stroke-width="1.4"/>
<circle cx="272.4" cy="1983.5" r="5.0" fill="#e6194b" fill-opacity="0.47" stroke="#000" stroke-opacity="0.75" stroke-width="1.4"/>
<circle cx="271.3" cy="2007.1" r="5.0" fill="#e6194b" fill-opacity="0.47" stroke="#000" stroke-opacity="0.75" stroke-width="1.4"/>
<circle cx="148.4" cy="1966.8" r="5.0" fill="#e6194b" fill-opacity="0.47" stroke="#000" stroke-opacity="0.75" stroke-width="1.4"/>
<circle cx="160.0" cy="1967.3" r="5.0" fill="#e6194b" fill-opacity="0.47" stroke="#000" stroke-opacity="0.75" stroke-width="1.4"/>
<circle cx="177.0" cy="1970.2" r="5.0" fill="#e6194b" fill-opacity="0.47" stroke="#000" stroke-opacity="0.75" stroke-width="1.4"/>
<circle cx="188.6" cy="1968.2" r="5.0" fill="#e6194b" fill-opacity="0.47" stroke="#000" stroke-opacity="0.75" stroke-width="1.4"/>
<circle cx="205.1" cy="1969.7" r="5.0" fill="#e6194b" fill-opacity="0.47" stroke="#000" stroke-opacity="0.75" stroke-width="1.4"/>
<circle cx="215.3" cy="1970.2" r="5.0" fill="#e6194b" fill-opacity="0.47" stroke="#000" stroke-opacity="0.75" stroke-width="1.4"/>
<circle cx="152.8" cy="1960.5" r="5.0" fill="#e6194b" fill-opacity="0.47" stroke="#000" stroke-opacity="0.75" stroke-width="1.4"/>
<circle cx="160.0" cy="1974.5" r="5.0" fill="#e6194b" fill-opacity="0.47" stroke="#000" stroke-opacity="0.75" stroke-width="1.4"/>
<circle cx="153.8" cy="1980.3" r="5.0" fill="#e6194b" fill-opacity="0.47" stroke="#000" stroke-opacity="0.75" stroke-width="1.4"/>
<circle cx="135.4" cy="1983.2" r="5.0" fill="#e6194b" fill-opacity="0.47" stroke="#000" stroke-opacity="0.75" stroke-width="1.4"/>
<circle cx="120.3" cy="1988.1" r="5.0" fill="#e6194b" fill-opacity="0.47" stroke="#000" stroke-opacity="0.75" stroke-width="1.4"/>
<circle cx="121.3" cy="1994.4" r="5.0" fill="#e6194b" fill-opacity="0.47" stroke="#000" stroke-opacity="0.75" stroke-width="1.4"/>
<circle cx="182.8" cy="1983.7" r="5.0" fill="#e6194b" fill-opacity="0.47" stroke="#000" stroke-opacity="0.75" stroke-width="1.4"/>
<circle cx="198.3" cy="1977.9" r="5.0" fill="#e6194b" fill-opacity="0.47" stroke="#000" stroke-opacity="0.75" stroke-width="1.4"/>
<circle cx="207.5" cy="1982.3" r="5.0" fill="#e6194b" fill-opacity="0.47" stroke="#000" stroke-opacity="0.75" stroke-width="1.4"/>
<circle cx="222.5" cy="1984.7" r="5.0" fill="#e6194b" fill-opacity="0.47" stroke="#000" stroke-opacity="0.75" stroke-width="1.4"/>
<circle cx="149.4" cy="1988.1" r="5.0" fill="#e6194b" fill-opacity="0.47" stroke="#000" stroke-opacity="0.75" stroke-width="1.4"/>
<circle cx="142.6" cy="1992.9" r="5.0" fill="#e6194b" fill-opacity="0.47" stroke="#000" stroke-opacity="0.75" stroke-width="1.4"/>
<circle cx="140.7" cy="1996.3" r="5.0" fill="#e6194b" fill-opacity="0.47" stroke="#000" stroke-opacity="0.75" stroke-width="1.4"/>
<circle cx="158.1" cy="1991.5" r="5.0" fill="#e6194b" fill-opacity="0.47" stroke="#000" stroke-opacity="0.75" stroke-width="1.4"/>
<circle cx="167.8" cy="1993.9" r="5.0" fill="#e6194b" fill-opacity="0.47" stroke="#000" stroke-opacity="0.75" stroke-width="1.4"/>
<circle cx="165.9" cy="2000.7" r="5.0" fill="#e6194b" fill-opacity="0.47" stroke="#000" stroke-opacity="0.75" stroke-width="1.4"/>
<circle cx="153.8" cy="2003.1" r="5.0" fill="#e6194b" fill-opacity="0.47" stroke="#000" stroke-opacity="0.75" stroke-width="1.4"/>
<circle cx="180.4" cy="1996.8" r="5.0" fill="#e6194b" fill-opacity="0.47" stroke="#000" stroke-opacity="0.75" stroke-width="1.4"/>
<circle cx="185.7" cy="1993.4" r="5.0" fill="#e6194b" fill-opacity="0.47" stroke="#000" stroke-opacity="0.75" stroke-width="1.4"/>
<circle cx="195.9" cy="1990.0" r="5.0" fill="#e6194b" fill-opacity="0.47" stroke="#000" stroke-opacity="0.75" stroke-width="1.4"/>
<circle cx="205.1" cy="1989.1" r="5.0" fill="#e6194b" fill-opacity="0.47" stroke="#000" stroke-opacity="0.75" stroke-width="1.4"/>
<circle cx="222.5" cy="1992.9" r="5.0" fill="#e6194b" fill-opacity="0.47" stroke="#000" stroke-opacity="0.75" stroke-width="1.4"/>
<circle cx="224.9" cy="1997.8" r="5.0" fill="#e6194b" fill-opacity="0.47" stroke="#000" stroke-opacity="0.75" stroke-width="1.4"/>
<circle cx="217.2" cy="2001.6" r="5.0" fill="#e6194b" fill-opacity="0.47" stroke="#000" stroke-opacity="0.75" stroke-width="1.4"/>
<circle cx="225.9" cy="2006.0" r="5.0" fill="#e6194b" fill-opacity="0.47" stroke="#000" stroke-opacity="0.75" stroke-width="1.4"/>
<circle cx="234.1" cy="2006.5" r="5.0" fill="#e6194b" fill-opacity="0.47" stroke="#000" stroke-opacity="0.75" stroke-width="1.4"/>
<circle cx="191.0" cy="2004.1" r="5.0" fill="#e6194b" fill-opacity="0.47" stroke="#000" stroke-opacity="0.75" stroke-width="1.4"/>
<circle cx="202.7" cy="2004.6" r="5.0" fill="#e6194b" fill-opacity="0.47" stroke="#000" stroke-opacity="0.75" stroke-width="1.4"/>
<circle cx="209.4" cy="2008.4" r="5.0" fill="#e6194b" fill-opacity="0.47" stroke="#000" stroke-opacity="0.75" stroke-width="1.4"/>
<circle cx="212.8" cy="2013.3" r="5.0" fill="#e6194b" fill-opacity="0.47" stroke="#000" stroke-opacity="0.75" stroke-width="1.4"/>
<circle cx="173.6" cy="2012.8" r="5.0" fill="#e6194b" fill-opacity="0.47" stroke="#000" stroke-opacity="0.75" stroke-width="1.4"/>
<circle cx="179.4" cy="2010.4" r="5.0" fill="#e6194b" fill-opacity="0.47" stroke="#000" stroke-opacity="0.75" stroke-width="1.4"/>
<circle cx="185.2" cy="2006.5" r="5.0" fill="#e6194b" fill-opacity="0.47" stroke="#000" stroke-opacity="0.75" stroke-width="1.4"/>
<circle cx="147.9" cy="2013.8" r="5.0" fill="#e6194b" fill-opacity="0.47" stroke="#000" stroke-opacity="0.75" stroke-width="1.4"/>
<circle cx="147.5" cy="2020.0" r="5.0" fill="#e6194b" fill-opacity="0.47" stroke="#000" stroke-opacity="0.75" stroke-width="1.4"/>
<circle cx="154.2" cy="2021.0" r="5.0" fill="#e6194b" fill-opacity="0.47" stroke="#000" stroke-opacity="0.75" stroke-width="1.4"/>
<circle cx="157.1" cy="2026.8" r="5.0" fill="#e6194b" fill-opacity="0.47" stroke="#000" stroke-opacity="0.75" stroke-width="1.4"/>
<circle cx="165.9" cy="2023.0" r="5.0" fill="#e6194b" fill-opacity="0.47" stroke="#000" stroke-opacity="0.75" stroke-width="1.4"/>
<circle cx="150.4" cy="2025.9" r="5.0" fill="#e6194b" fill-opacity="0.47" stroke="#000" stroke-opacity="0.75" stroke-width="1.4"/>
<circle cx="180.4" cy="2022.0" r="5.0" fill="#e6194b" fill-opacity="0.47" stroke="#000" stroke-opacity="0.75" stroke-width="1.4"/>
<circle cx="193.0" cy="2017.1" r="5.0" fill="#e6194b" fill-opacity="0.47" stroke="#000" stroke-opacity="0.75" stroke-width="1.4"/>
<circle cx="199.8" cy="2018.1" r="5.0" fill="#e6194b" fill-opacity="0.47" stroke="#000" stroke-opacity="0.75" stroke-width="1.4"/>
<circle cx="204.6" cy="2017.1" r="5.0" fill="#e6194b" fill-opacity="0.47" stroke="#000" stroke-opacity="0.75" stroke-width="1.4"/>
<circle cx="196.9" cy="2022.0" r="5.0" fill="#e6194b" fill-opacity="0.47" stroke="#000" stroke-opacity="0.75" stroke-width="1.4"/>
<circle cx="169.7" cy="2036.5" r="5.0" fill="#e6194b" fill-opacity="0.47" stroke="#000" stroke-opacity="0.75" stroke-width="1.4"/>
<circle cx="163.9" cy="2039.4" r="5.0" fill="#e6194b" fill-opacity="0.47" stroke="#000" stroke-opacity="0.75" stroke-width="1.4"/>
<circle cx="177.5" cy="2032.6" r="5.0" fill="#e6194b" fill-opacity="0.47" stroke="#000" stroke-opacity="0.75" stroke-width="1.4"/>
<circle cx="189.1" cy="2027.8" r="5.0" fill="#e6194b" fill-opacity="0.47" stroke="#000" stroke-opacity="0.75" stroke-width="1.4"/>
<circle cx="198.8" cy="2032.6" r="5.0" fill="#e6194b" fill-opacity="0.47" stroke="#000" stroke-opacity="0.75" stroke-width="1.4"/>
<circle cx="206.5" cy="2028.8" r="5.0" fill="#e6194b" fill-opacity="0.47" stroke="#000" stroke-opacity="0.75" stroke-width="1.4"/>
<circle cx="208.5" cy="2026.8" r="5.0" fill="#e6194b" fill-opacity="0.47" stroke="#000" stroke-opacity="0.75" stroke-width="1.4"/>
<circle cx="176.5" cy="2044.3" r="5.0" fill="#e6194b" fill-opacity="0.47" stroke="#000" stroke-opacity="0.75" stroke-width="1.4"/>
<circle cx="181.4" cy="2047.2" r="5.0" fill="#e6194b" fill-opacity="0.47" stroke="#000" stroke-opacity="0.75" stroke-width="1.4"/>
<circle cx="190.1" cy="2037.5" r="5.0" fill="#e6194b" fill-opacity="0.47" stroke="#000" stroke-opacity="0.75" stroke-width="1.4"/>
<circle cx="201.2" cy="2047.2" r="5.0" fill="#e6194b" fill-opacity="0.47" stroke="#000" stroke-opacity="0.75" stroke-width="1.4"/>
<circle cx="211.4" cy="2041.4" r="5.0" fill="#e6194b" fill-opacity="0.47" stroke="#000" stroke-opacity="0.75" stroke-width="1.4"/>
<circle cx="221.1" cy="2042.3" r="5.0" fill="#e6194b" fill-opacity="0.47" stroke="#000" stroke-opacity="0.75" stroke-width="1.4"/>
<circle cx="221.1" cy="2050.6" r="5.0" fill="#e6194b" fill-opacity="0.47" stroke="#000" stroke-opacity="0.75" stroke-width="1.4"/>
<circle cx="207.5" cy="2039.4" r="5.0" fill="#e6194b" fill-opacity="0.47" stroke="#000" stroke-opacity="0.75" stroke-width="1.4"/>
<circle cx="195.9" cy="2029.7" r="5.0" fill="#e6194b" fill-opacity="0.47" stroke="#000" stroke-opacity="0.75" stroke-width="1.4"/>
<circle cx="255.0" cy="1982.8" r="5.0" fill="#e6194b" fill-opacity="0.47" stroke="#000" stroke-opacity="0.75" stroke-width="1.4"/>
<circle cx="238.5" cy="2033.1" r="5.0" fill="#e6194b" fill-opacity="0.47" stroke="#000" stroke-opacity="0.75" stroke-width="1.4"/>
<circle cx="124.2" cy="2038.5" r="5.0" fill="#e6194b" fill-opacity="0.47" stroke="#000" stroke-opacity="0.75" stroke-width="1.4"/>
<circle cx="109.2" cy="2051.0" r="5.0" fill="#e6194b" fill-opacity="0.47" stroke="#000" stroke-opacity="0.75" stroke-width="1.4"/>
<circle cx="144.6" cy="2053.0" r="5.0" fill="#e6194b" fill-opacity="0.47" stroke="#000" stroke-opacity="0.75" stroke-width="1.4"/>
<circle cx="151.3" cy="2050.1" r="5.0" fill="#e6194b" fill-opacity="0.47" stroke="#000" stroke-opacity="0.75" stroke-width="1.4"/>
<circle cx="155.2" cy="2052.0" r="5.0" fill="#e6194b" fill-opacity="0.47" stroke="#000" stroke-opacity="0.75" stroke-width="1.4"/>
<circle cx="163.9" cy="2055.9" r="5.0" fill="#e6194b" fill-opacity="0.47" stroke="#000" stroke-opacity="0.75" stroke-width="1.4"/>
<circle cx="158.1" cy="2058.8" r="5.0" fill="#e6194b" fill-opacity="0.47" stroke="#000" stroke-opacity="0.75" stroke-width="1.4"/>
<circle cx="185.2" cy="2039.4" r="5.0" fill="#e6194b" fill-opacity="0.47" stroke="#000" stroke-opacity="0.75" stroke-width="1.4"/>
<circle cx="185.2" cy="2018.1" r="5.0" fill="#e6194b" fill-opacity="0.47" stroke="#000" stroke-opacity="0.75" stroke-width="1.4"/>
<circle cx="211.4" cy="2020.0" r="5.0" fill="#e6194b" fill-opacity="0.47" stroke="#000" stroke-opacity="0.75" stroke-width="1.4"/>
<circle cx="175.5" cy="2018.1" r="5.0" fill="#e6194b" fill-opacity="0.47" stroke="#000" stroke-opacity="0.75" stroke-width="1.4"/>
<circle cx="167.8" cy="2006.5" r="5.0" fill="#e6194b" fill-opacity="0.47" stroke="#000" stroke-opacity="0.75" stroke-width="1.4"/>
<circle cx="197.7" cy="2031.1" r="5.0" fill="#e6194b" fill-opacity="0.47" stroke="#000" stroke-opacity="0.75" stroke-width="1.4"/>
<circle cx="169.8" cy="2033.2" r="5.0" fill="#e6194b" fill-opacity="0.47" stroke="#000" stroke-opacity="0.75" stroke-width="1.4"/>
<circle cx="192.4" cy="2003.4" r="5.0" fill="#e6194b" fill-opacity="0.47" stroke="#000" stroke-opacity="0.75" stroke-width="1.4"/>
<circle cx="182.6" cy="2000.0" r="5.0" fill="#e6194b" fill-opacity="0.47" stroke="#000" stroke-opacity="0.75" stroke-width="1.4"/>
<circle cx="190.1" cy="2023.0" r="5.0" fill="#e6194b" fill-opacity="0.47" stroke="#000" stroke-opacity="0.75" stroke-width="1.4"/>
<circle cx="200.6" cy="2020.7" r="5.0" fill="#e6194b" fill-opacity="0.47" stroke="#000" stroke-opacity="0.75" stroke-width="1.4"/>
<circle cx="171.0" cy="1994.1" r="5.0" fill="#e6194b" fill-opacity="0.47" stroke="#000" stroke-opacity="0.75" stroke-width="1.4"/>
<circle cx="213.2" cy="2024.6" r="5.0" fill="#e6194b" fill-opacity="0.47" stroke="#000" stroke-opacity="0.75" stroke-width="1.4"/>
<circle cx="221.4" cy="2027.5" r="5.0" fill="#e6194b" fill-opacity="0.47" stroke="#000" stroke-opacity="0.75" stroke-width="1.4"/>
<circle cx="179.7" cy="2028.4" r="5.0" fill="#e6194b" fill-opacity="0.47" stroke="#000" stroke-opacity="0.75" stroke-width="1.4"/>
<circle cx="201.2" cy="2015.6" r="5.0" fill="#e6194b" fill-opacity="0.47" stroke="#000" stroke-opacity="0.75" stroke-width="1.4"/>
<circle cx="182.3" cy="2013.0" r="5.0" fill="#e6194b" fill-opacity="0.47" stroke="#000" stroke-opacity="0.75" stroke-width="1.4"/>
<circle cx="191.1" cy="2023.7" r="5.0" fill="#e6194b" fill-opacity="0.47" stroke="#000" stroke-opacity="0.75" stroke-width="1.4"/>
<circle cx="194.6" cy="2032.0" r="5.0" fill="#e6194b" fill-opacity="0.47" stroke="#000" stroke-opacity="0.75" stroke-width="1.4"/>
<circle cx="182.9" cy="2018.7" r="5.0" fill="#e6194b" fill-opacity="0.47" stroke="#000" stroke-opacity="0.75" stroke-width="1.4"/>
<circle cx="199.5" cy="2002.6" r="5.0" fill="#e6194b" fill-opacity="0.47" stroke="#000" stroke-opacity="0.75" stroke-width="1.4"/>
<circle cx="177.6" cy="2025.2" r="5.0" fill="#e6194b" fill-opacity="0.47" stroke="#000" stroke-opacity="0.75" stroke-width="1.4"/>
<circle cx="199.7" cy="2011.0" r="5.0" fill="#e6194b" fill-opacity="0.47" stroke="#000" stroke-opacity="0.75" stroke-width="1.4"/>
<circle cx="198.1" cy="2004.9" r="5.0" fill="#e6194b" fill-opacity="0.47" stroke="#000" stroke-opacity="0.75" stroke-width="1.4"/>
<circle cx="196.1" cy="2005.7" r="5.0" fill="#e6194b" fill-opacity="0.47" stroke="#000" stroke-opacity="0.75" stroke-width="1.4"/>
<circle cx="195.5" cy="2024.8" r="5.0" fill="#e6194b" fill-opacity="0.47" stroke="#000" stroke-opacity="0.75" stroke-width="1.4"/>
<circle cx="188.6" cy="2023.2" r="5.0" fill="#e6194b" fill-opacity="0.47" stroke="#000" stroke-opacity="0.75" stroke-width="1.4"/>
<circle cx="179.6" cy="2009.5" r="5.0" fill="#e6194b" fill-opacity="0.47" stroke="#000" stroke-opacity="0.75" stroke-width="1.4"/>
<circle cx="175.3" cy="2011.8" r="5.0" fill="#e6194b" fill-opacity="0.47" stroke="#000" stroke-opacity="0.75" stroke-width="1.4"/>
<circle cx="194.0" cy="2010.6" r="5.0" fill="#e6194b" fill-opacity="0.47" stroke="#000" stroke-opacity="0.75" stroke-width="1.4"/>
<circle cx="189.5" cy="2029.1" r="5.0" fill="#e6194b" fill-opacity="0.47" stroke="#000" stroke-opacity="0.75" stroke-width="1.4"/>
<circle cx="211.5" cy="1998.4" r="5.0" fill="#e6194b" fill-opacity="0.47" stroke="#000" stroke-opacity="0.75" stroke-width="1.4"/>
<circle cx="208.3" cy="1992.3" r="5.0" fill="#e6194b" fill-opacity="0.47" stroke="#000" stroke-opacity="0.75" stroke-width="1.4"/>
<circle cx="183.5" cy="2010.9" r="5.0" fill="#e6194b" fill-opacity="0.47" stroke="#000" stroke-opacity="0.75" stroke-width="1.4"/>
<circle cx="194.4" cy="2000.4" r="5.0" fill="#e6194b" fill-opacity="0.47" stroke="#000" stroke-opacity="0.75" stroke-width="1.4"/>
<circle cx="385.7" cy="1900.7" r="5.0" fill="#33b333" fill-opacity="0.47" stroke="#000" stroke-opacity="0.75" stroke-width="1.4"/>
<circle cx="381.9" cy="1909.6" r="5.0" fill="#33b333" fill-opacity="0.47" stroke="#000" stroke-opacity="0.75" stroke-width="1.4"/>
<circle cx="374.3" cy="1910.7" r="5.0" fill="#33b333" fill-opacity="0.47" stroke="#000" stroke-opacity="0.75" stroke-width="1.4"/>
<circle cx="374.3" cy="1917.8" r="5.0" fill="#33b333" fill-opacity="0.47" stroke="#000" stroke-opacity="0.75" stroke-width="1.4"/>
<circle cx="340.7" cy="1943.9" r="5.0" fill="#33b333" fill-opacity="0.47" stroke="#000" stroke-opacity="0.75" stroke-width="1.4"/>
<circle cx="304.6" cy="1955.2" r="5.0" fill="#33b333" fill-opacity="0.47" stroke="#000" stroke-opacity="0.75" stroke-width="1.4"/>
<circle cx="387.4" cy="1954.8" r="5.0" fill="#33b333" fill-opacity="0.47" stroke="#000" stroke-opacity="0.75" stroke-width="1.4"/>
<circle cx="328.0" cy="1959.7" r="5.0" fill="#33b333" fill-opacity="0.47" stroke="#000" stroke-opacity="0.75" stroke-width="1.4"/>
<circle cx="364.0" cy="1956.5" r="5.0" fill="#33b333" fill-opacity="0.47" stroke="#000" stroke-opacity="0.75" stroke-width="1.4"/>
<circle cx="280.3" cy="1986.2" r="5.0" fill="#33b333" fill-opacity="0.47" stroke="#000" stroke-opacity="0.75" stroke-width="1.4"/>
<circle cx="277.9" cy="1998.2" r="5.0" fill="#33b333" fill-opacity="0.47" stroke="#000" stroke-opacity="0.75" stroke-width="1.4"/>
<circle cx="276.0" cy="2027.8" r="5.0" fill="#33b333" fill-opacity="0.47" stroke="#000" stroke-opacity="0.75" stroke-width="1.4"/>
<circle cx="283.9" cy="2028.9" r="5.0" fill="#33b333" fill-opacity="0.47" stroke="#000" stroke-opacity="0.75" stroke-width="1.4"/>
<circle cx="362.9" cy="2078.5" r="5.0" fill="#33b333" fill-opacity="0.47" stroke="#000" stroke-opacity="0.75" stroke-width="1.4"/>
<circle cx="389.0" cy="2076.3" r="5.0" fill="#33b333" fill-opacity="0.47" stroke="#000" stroke-opacity="0.75" stroke-width="1.4"/>
<circle cx="324.0" cy="2087.2" r="5.0" fill="#33b333" fill-opacity="0.47" stroke="#000" stroke-opacity="0.75" stroke-width="1.4"/>
<circle cx="337.8" cy="2094.3" r="5.0" fill="#33b333" fill-opacity="0.47" stroke="#000" stroke-opacity="0.75" stroke-width="1.4"/>
<circle cx="343.3" cy="2092.1" r="5.0" fill="#33b333" fill-opacity="0.47" stroke="#000" stroke-opacity="0.75" stroke-width="1.4"/>
<circle cx="353.1" cy="2096.5" r="5.0" fill="#33b333" fill-opacity="0.47" stroke="#000" stroke-opacity="0.75" stroke-width="1.4"/>
<circle cx="364.5" cy="2100.8" r="5.0" fill="#33b333" fill-opacity="0.47" stroke="#000" stroke-opacity="0.75" stroke-width="1.4"/>
<circle cx="349.8" cy="2065.4" r="5.0" fill="#33b333" fill-opacity="0.47" stroke="#000" stroke-opacity="0.75" stroke-width="1.4"/>
<circle cx="310.5" cy="1971.8" r="5.0" fill="#33b333" fill-opacity="0.47" stroke="#000" stroke-opacity="0.75" stroke-width="1.4"/>
<circle cx="312.8" cy="1980.9" r="5.0" fill="#33b333" fill-opacity="0.47" stroke="#000" stroke-opacity="0.75" stroke-width="1.4"/>
<circle cx="321.1" cy="1965.9" r="5.0" fill="#33b333" fill-opacity="0.47" stroke="#000" stroke-opacity="0.75" stroke-width="1.4"/>
<circle cx="329.3" cy="1967.5" r="5.0" fill="#33b333" fill-opacity="0.47" stroke="#000" stroke-opacity="0.75" stroke-width="1.4"/>
<circle cx="329.3" cy="1974.2" r="5.0" fill="#33b333" fill-opacity="0.47" stroke="#000" stroke-opacity="0.75" stroke-width="1.4"/>
<circle cx="329.3" cy="1978.9" r="5.0" fill="#33b333" fill-opacity="0.47" stroke="#000" stroke-opacity="0.75" stroke-width="1.4"/>
<circle cx="327.8" cy="1982.0" r="5.0" fill="#33b333" fill-opacity="0.47" stroke="#000" stroke-opacity="0.75" stroke-width="1.4"/>
<circle cx="337.2" cy="1987.5" r="5.0" fill="#33b333" fill-opacity="0.47" stroke="#000" stroke-opacity="0.75" stroke-width="1.4"/>
<circle cx="346.7" cy="1984.4" r="5.0" fill="#33b333" fill-opacity="0.47" stroke="#000" stroke-opacity="0.75" stroke-width="1.4"/>
<circle cx="349.0" cy="1979.7" r="5.0" fill="#33b333" fill-opacity="0.47" stroke="#000" stroke-opacity="0.75" stroke-width="1.4"/>
<circle cx="345.1" cy="1993.8" r="5.0" fill="#33b333" fill-opacity="0.47" stroke="#000" stroke-opacity="0.75" stroke-width="1.4"/>
<circle cx="347.4" cy="2000.9" r="5.0" fill="#33b333" fill-opacity="0.47" stroke="#000" stroke-opacity="0.75" stroke-width="1.4"/>
<circle cx="357.7" cy="1966.3" r="5.0" fill="#33b333" fill-opacity="0.47" stroke="#000" stroke-opacity="0.75" stroke-width="1.4"/>
<circle cx="367.9" cy="1967.1" r="5.0" fill="#33b333" fill-opacity="0.47" stroke="#000" stroke-opacity="0.75" stroke-width="1.4"/>
<circle cx="378.1" cy="1962.4" r="5.0" fill="#33b333" fill-opacity="0.47" stroke="#000" stroke-opacity="0.75" stroke-width="1.4"/>
<circle cx="372.6" cy="1974.2" r="5.0" fill="#33b333" fill-opacity="0.47" stroke="#000" stroke-opacity="0.75" stroke-width="1.4"/>
<circle cx="360.8" cy="1980.5" r="5.0" fill="#33b333" fill-opacity="0.47" stroke="#000" stroke-opacity="0.75" stroke-width="1.4"/>
<circle cx="365.5" cy="1980.5" r="5.0" fill="#33b333" fill-opacity="0.47" stroke="#000" stroke-opacity="0.75" stroke-width="1.4"/>
<circle cx="375.8" cy="1986.0" r="5.0" fill="#33b333" fill-opacity="0.47" stroke="#000" stroke-opacity="0.75" stroke-width="1.4"/>
<circle cx="372.6" cy="1982.8" r="5.0" fill="#33b333" fill-opacity="0.47" stroke="#000" stroke-opacity="0.75" stroke-width="1.4"/>
<circle cx="360.0" cy="1989.9" r="5.0" fill="#33b333" fill-opacity="0.47" stroke="#000" stroke-opacity="0.75" stroke-width="1.4"/>
<circle cx="360.8" cy="1993.8" r="5.0" fill="#33b333" fill-opacity="0.47" stroke="#000" stroke-opacity="0.75" stroke-width="1.4"/>
<circle cx="367.9" cy="1989.9" r="5.0" fill="#33b333" fill-opacity="0.47" stroke="#000" stroke-opacity="0.75" stroke-width="1.4"/>
<circle cx="391.5" cy="1980.5" r="5.0" fill="#33b333" fill-opacity="0.47" stroke="#000" stroke-opacity="0.75" stroke-width="1.4"/>
<circle cx="390.7" cy="1985.2" r="5.0" fill="#33b333" fill-opacity="0.47" stroke="#000" stroke-opacity="0.75" stroke-width="1.4"/>
<circle cx="391.5" cy="1990.7" r="5.0" fill="#33b333" fill-opacity="0.47" stroke="#000" stroke-opacity="0.75" stroke-width="1.4"/>
<circle cx="384.4" cy="1996.2" r="5.0" fill="#33b333" fill-opacity="0.47" stroke="#000" stroke-opacity="0.75" stroke-width="1.4"/>
<circle cx="396.2" cy="1999.3" r="5.0" fill="#33b333" fill-opacity="0.47" stroke="#000" stroke-opacity="0.75" stroke-width="1.4"/>
<circle cx="397.0" cy="2004.1" r="5.0" fill="#33b333" fill-opacity="0.47" stroke="#000" stroke-opacity="0.75" stroke-width="1.4"/>
<circle cx="386.0" cy="2008.0" r="5.0" fill="#33b333" fill-opacity="0.47" stroke="#000" stroke-opacity="0.75" stroke-width="1.4"/>
<circle cx="394.7" cy="2013.5" r="5.0" fill="#33b333" fill-opacity="0.47" stroke="#000" stroke-opacity="0.75" stroke-width="1.4"/>
<circle cx="410.0" cy="2014.3" r="5.0" fill="#33b333" fill-opacity="0.47" stroke="#000" stroke-opacity="0.75" stroke-width="1.4"/>
<circle cx="419.8" cy="2023.7" r="5.0" fill="#33b333" fill-opacity="0.47" stroke="#000" stroke-opacity="0.75" stroke-width="1.4"/>
<circle cx="290.0" cy="2007.2" r="5.0" fill="#33b333" fill-opacity="0.47" stroke="#000" stroke-opacity="0.75" stroke-width="1.4"/>
<circle cx="292.8" cy="2008.0" r="5.0" fill="#33b333" fill-opacity="0.47" stroke="#000" stroke-opacity="0.75" stroke-width="1.4"/>
<circle cx="303.4" cy="1994.6" r="5.0" fill="#33b333" fill-opacity="0.47" stroke="#000" stroke-opacity="0.75" stroke-width="1.4"/>
<circle cx="311.2" cy="1996.2" r="5.0" fill="#33b333" fill-opacity="0.47" stroke="#000" stroke-opacity="0.75" stroke-width="1.4"/>
<circle cx="318.3" cy="1989.9" r="5.0" fill="#33b333" fill-opacity="0.47" stroke="#000" stroke-opacity="0.75" stroke-width="1.4"/>
<circle cx="318.3" cy="1994.6" r="5.0" fill="#33b333" fill-opacity="0.47" stroke="#000" stroke-opacity="0.75" stroke-width="1.4"/>
<circle cx="301.8" cy="2001.7" r="5.0" fill="#33b333" fill-opacity="0.47" stroke="#000" stroke-opacity="0.75" stroke-width="1.4"/>
<circle cx="312.0" cy="2001.7" r="5.0" fill="#33b333" fill-opacity="0.47" stroke="#000" stroke-opacity="0.75" stroke-width="1.4"/>
<circle cx="320.7" cy="2004.9" r="5.0" fill="#33b333" fill-opacity="0.47" stroke="#000" stroke-opacity="0.75" stroke-width="1.4"/>
<circle cx="317.5" cy="2008.8" r="5.0" fill="#33b333" fill-opacity="0.47" stroke="#000" stroke-opacity="0.75" stroke-width="1.4"/>
<circle cx="327.8" cy="1997.8" r="5.0" fill="#33b333" fill-opacity="0.47" stroke="#000" stroke-opacity="0.75" stroke-width="1.4"/>
<circle cx="330.9" cy="1997.0" r="5.0" fill="#33b333" fill-opacity="0.47" stroke="#000" stroke-opacity="0.75" stroke-width="1.4"/>
<circle cx="338.8" cy="2007.2" r="5.0" fill="#33b333" fill-opacity="0.47" stroke="#000" stroke-opacity="0.75" stroke-width="1.4"/>
<circle cx="340.4" cy="1995.4" r="5.0" fill="#33b333" fill-opacity="0.47" stroke="#000" stroke-opacity="0.75" stroke-width="1.4"/>
<circle cx="327.8" cy="2010.4" r="5.0" fill="#33b333" fill-opacity="0.47" stroke="#000" stroke-opacity="0.75" stroke-width="1.4"/>
<circle cx="334.1" cy="2011.9" r="5.0" fill="#33b333" fill-opacity="0.47" stroke="#000" stroke-opacity="0.75" stroke-width="1.4"/>
<circle cx="349.0" cy="2011.9" r="5.0" fill="#33b333" fill-opacity="0.47" stroke="#000" stroke-opacity="0.75" stroke-width="1.4"/>
<circle cx="361.6" cy="2006.4" r="5.0" fill="#33b333" fill-opacity="0.47" stroke="#000" stroke-opacity="0.75" stroke-width="1.4"/>
<circle cx="368.7" cy="2003.3" r="5.0" fill="#33b333" fill-opacity="0.47" stroke="#000" stroke-opacity="0.75" stroke-width="1.4"/>
<circle cx="375.8" cy="2002.5" r="5.0" fill="#33b333" fill-opacity="0.47" stroke="#000" stroke-opacity="0.75" stroke-width="1.4"/>
<circle cx="373.4" cy="2011.1" r="5.0" fill="#33b333" fill-opacity="0.47" stroke="#000" stroke-opacity="0.75" stroke-width="1.4"/>
<circle cx="373.4" cy="2014.3" r="5.0" fill="#33b333" fill-opacity="0.47" stroke="#000" stroke-opacity="0.75" stroke-width="1.4"/>
<circle cx="366.3" cy="2015.1" r="5.0" fill="#33b333" fill-opacity="0.47" stroke="#000" stroke-opacity="0.75" stroke-width="1.4"/>
<circle cx="386.0" cy="2015.1" r="5.0" fill="#33b333" fill-opacity="0.47" stroke="#000" stroke-opacity="0.75" stroke-width="1.4"/>
<circle cx="307.3" cy="2013.5" r="5.0" fill="#33b333" fill-opacity="0.47" stroke="#000" stroke-opacity="0.75" stroke-width="1.4"/>
<circle cx="316.0" cy="2023.0" r="5.0" fill="#33b333" fill-opacity="0.47" stroke="#000" stroke-opacity="0.75" stroke-width="1.4"/>
<circle cx="308.9" cy="2029.2" r="5.0" fill="#33b333" fill-opacity="0.47" stroke="#000" stroke-opacity="0.75" stroke-width="1.4"/>
<circle cx="319.1" cy="2024.5" r="5.0" fill="#33b333" fill-opacity="0.47" stroke="#000" stroke-opacity="0.75" stroke-width="1.4"/>
<circle cx="318.3" cy="2030.8" r="5.0" fill="#33b333" fill-opacity="0.47" stroke="#000" stroke-opacity="0.75" stroke-width="1.4"/>
<circle cx="327.0" cy="2032.4" r="5.0" fill="#33b333" fill-opacity="0.47" stroke="#000" stroke-opacity="0.75" stroke-width="1.4"/>
<circle cx="329.3" cy="2021.4" r="5.0" fill="#33b333" fill-opacity="0.47" stroke="#000" stroke-opacity="0.75" stroke-width="1.4"/>
<circle cx="334.1" cy="2032.4" r="5.0" fill="#33b333" fill-opacity="0.47" stroke="#000" stroke-opacity="0.75" stroke-width="1.4"/>
<circle cx="346.7" cy="2023.7" r="5.0" fill="#33b333" fill-opacity="0.47" stroke="#000" stroke-opacity="0.75" stroke-width="1.4"/>
<circle cx="348.2" cy="2030.8" r="5.0" fill="#33b333" fill-opacity="0.47" stroke="#000" stroke-opacity="0.75" stroke-width="1.4"/>
<circle cx="356.9" cy="2023.7" r="5.0" fill="#33b333" fill-opacity="0.47" stroke="#000" stroke-opacity="0.75" stroke-width="1.4"/>
<circle cx="366.3" cy="2021.4" r="5.0" fill="#33b333" fill-opacity="0.47" stroke="#000" stroke-opacity="0.75" stroke-width="1.4"/>
<circle cx="372.6" cy="2026.1" r="5.0" fill="#33b333" fill-opacity="0.47" stroke="#000" stroke-opacity="0.75" stroke-width="1.4"/>
<circle cx="380.5" cy="2026.9" r="5.0" fill="#33b333" fill-opacity="0.47" stroke="#000" stroke-opacity="0.75" stroke-width="1.4"/>
<circle cx="391.5" cy="2024.5" r="5.0" fill="#33b333" fill-opacity="0.47" stroke="#000" stroke-opacity="0.75" stroke-width="1.4"/>
<circle cx="403.3" cy="2030.8" r="5.0" fill="#33b333" fill-opacity="0.47" stroke="#000" stroke-opacity="0.75" stroke-width="1.4"/>
<circle cx="403.3" cy="2035.5" r="5.0" fill="#33b333" fill-opacity="0.47" stroke="#000" stroke-opacity="0.75" stroke-width="1.4"/>
<circle cx="365.5" cy="2030.8" r="5.0" fill="#33b333" fill-opacity="0.47" stroke="#000" stroke-opacity="0.75" stroke-width="1.4"/>
<circle cx="359.2" cy="2029.2" r="5.0" fill="#33b333" fill-opacity="0.47" stroke="#000" stroke-opacity="0.75" stroke-width="1.4"/>
<circle cx="345.1" cy="2035.5" r="5.0" fill="#33b333" fill-opacity="0.47" stroke="#000" stroke-opacity="0.75" stroke-width="1.4"/>
<circle cx="303.4" cy="2039.5" r="5.0" fill="#33b333" fill-opacity="0.47" stroke="#000" stroke-opacity="0.75" stroke-width="1.4"/>
<circle cx="304.2" cy="2041.8" r="5.0" fill="#33b333" fill-opacity="0.47" stroke="#000" stroke-opacity="0.75" stroke-width="1.4"/>
<circle cx="337.2" cy="2042.6" r="5.0" fill="#33b333" fill-opacity="0.47" stroke="#000" stroke-opacity="0.75" stroke-width="1.4"/>
<circle cx="341.1" cy="2038.7" r="5.0" fill="#33b333" fill-opacity="0.47" stroke="#000" stroke-opacity="0.75" stroke-width="1.4"/>
<circle cx="349.8" cy="2038.7" r="5.0" fill="#33b333" fill-opacity="0.47" stroke="#000" stroke-opacity="0.75" stroke-width="1.4"/>
<circle cx="356.9" cy="2041.1" r="5.0" fill="#33b333" fill-opacity="0.47" stroke="#000" stroke-opacity="0.75" stroke-width="1.4"/>
<circle cx="366.3" cy="2044.2" r="5.0" fill="#33b333" fill-opacity="0.47" stroke="#000" stroke-opacity="0.75" stroke-width="1.4"/>
<circle cx="374.2" cy="2041.8" r="5.0" fill="#33b333" fill-opacity="0.47" stroke="#000" stroke-opacity="0.75" stroke-width="1.4"/>
<circle cx="382.9" cy="2037.1" r="5.0" fill="#33b333" fill-opacity="0.47" stroke="#000" stroke-opacity="0.75" stroke-width="1.4"/>
<circle cx="387.6" cy="2035.5" r="5.0" fill="#33b333" fill-opacity="0.47" stroke="#000" stroke-opacity="0.75" stroke-width="1.4"/>
<circle cx="390.7" cy="2034.0" r="5.0" fill="#33b333" fill-opacity="0.47" stroke="#000" stroke-opacity="0.75" stroke-width="1.4"/>
<circle cx="382.9" cy="2049.7" r="5.0" fill="#33b333" fill-opacity="0.47" stroke="#000" stroke-opacity="0.75" stroke-width="1.4"/>
<circle cx="410.4" cy="2041.8" r="5.0" fill="#33b333" fill-opacity="0.47" stroke="#000" stroke-opacity="0.75" stroke-width="1.4"/>
<circle cx="321.5" cy="2052.9" r="5.0" fill="#33b333" fill-opacity="0.47" stroke="#000" stroke-opacity="0.75" stroke-width="1.4"/>
<circle cx="330.9" cy="2052.1" r="5.0" fill="#33b333" fill-opacity="0.47" stroke="#000" stroke-opacity="0.75" stroke-width="1.4"/>
<circle cx="343.5" cy="2052.1" r="5.0" fill="#33b333" fill-opacity="0.47" stroke="#000" stroke-opacity="0.75" stroke-width="1.4"/>
<circle cx="356.9" cy="2052.9" r="5.0" fill="#33b333" fill-opacity="0.47" stroke="#000" stroke-opacity="0.75" stroke-width="1.4"/>
<circle cx="362.4" cy="2056.8" r="5.0" fill="#33b333" fill-opacity="0.47" stroke="#000" stroke-opacity="0.75" stroke-width="1.4"/>
<circle cx="312.8" cy="2057.6" r="5.0" fill="#33b333" fill-opacity="0.47" stroke="#000" stroke-opacity="0.75" stroke-width="1.4"/>
<circle cx="349.8" cy="2058.4" r="5.0" fill="#33b333" fill-opacity="0.47" stroke="#000" stroke-opacity="0.75" stroke-width="1.4"/>
<circle cx="388.4" cy="2059.2" r="5.0" fill="#33b333" fill-opacity="0.47" stroke="#000" stroke-opacity="0.75" stroke-width="1.4"/>
<circle cx="405.7" cy="2059.9" r="5.0" fill="#33b333" fill-opacity="0.47" stroke="#000" stroke-opacity="0.75" stroke-width="1.4"/>
<circle cx="290.0" cy="2031.6" r="5.0" fill="#33b333" fill-opacity="0.47" stroke="#000" stroke-opacity="0.75" stroke-width="1.4"/>
<circle cx="334.1" cy="2013.1" r="5.0" fill="#33b333" fill-opacity="0.47" stroke="#000" stroke-opacity="0.75" stroke-width="1.4"/>
<circle cx="334.7" cy="2003.0" r="5.0" fill="#33b333" fill-opacity="0.47" stroke="#000" stroke-opacity="0.75" stroke-width="1.4"/>
<circle cx="364.7" cy="2025.0" r="5.0" fill="#33b333" fill-opacity="0.47" stroke="#000" stroke-opacity="0.75" stroke-width="1.4"/>
<circle cx="348.7" cy="2012.3" r="5.0" fill="#33b333" fill-opacity="0.47" stroke="#000" stroke-opacity="0.75" stroke-width="1.4"/>
<circle cx="349.6" cy="2005.6" r="5.0" fill="#33b333" fill-opacity="0.47" stroke="#000" stroke-opacity="0.75" stroke-width="1.4"/>
<circle cx="338.7" cy="1997.5" r="5.0" fill="#33b333" fill-opacity="0.47" stroke="#000" stroke-opacity="0.75" stroke-width="1.4"/>
<circle cx="364.3" cy="2010.8" r="5.0" fill="#33b333" fill-opacity="0.47" stroke="#000" stroke-opacity="0.75" stroke-width="1.4"/>
<circle cx="347.0" cy="2014.8" r="5.0" fill="#33b333" fill-opacity="0.47" stroke="#000" stroke-opacity="0.75" stroke-width="1.4"/>
<circle cx="361.7" cy="2031.9" r="5.0" fill="#33b333" fill-opacity="0.47" stroke="#000" stroke-opacity="0.75" stroke-width="1.4"/>
<circle cx="344.0" cy="2006.4" r="5.0" fill="#33b333" fill-opacity="0.47" stroke="#000" stroke-opacity="0.75" stroke-width="1.4"/>
<circle cx="354.4" cy="2000.2" r="5.0" fill="#33b333" fill-opacity="0.47" stroke="#000" stroke-opacity="0.75" stroke-width="1.4"/>
<circle cx="378.0" cy="2025.0" r="5.0" fill="#33b333" fill-opacity="0.47" stroke="#000" stroke-opacity="0.75" stroke-width="1.4"/>
<circle cx="365.3" cy="2010.3" r="5.0" fill="#33b333" fill-opacity="0.47" stroke="#000" stroke-opacity="0.75" stroke-width="1.4"/>
<circle cx="366.3" cy="2026.7" r="5.0" fill="#33b333" fill-opacity="0.47" stroke="#000" stroke-opacity="0.75" stroke-width="1.4"/>
<circle cx="361.0" cy="2008.1" r="5.0" fill="#33b333" fill-opacity="0.47" stroke="#000" stroke-opacity="0.75" stroke-width="1.4"/>
<circle cx="312.9" cy="2025.3" r="5.0" fill="#33b333" fill-opacity="0.47" stroke="#000" stroke-opacity="0.75" stroke-width="1.4"/>
<circle cx="342.2" cy="2000.2" r="5.0" fill="#33b333" fill-opacity="0.47" stroke="#000" stroke-opacity="0.75" stroke-width="1.4"/>
<circle cx="369.6" cy="2016.7" r="5.0" fill="#33b333" fill-opacity="0.47" stroke="#000" stroke-opacity="0.75" stroke-width="1.4"/>
<circle cx="318.8" cy="2010.6" r="5.0" fill="#33b333" fill-opacity="0.47" stroke="#000" stroke-opacity="0.75" stroke-width="1.4"/>
<circle cx="344.1" cy="2025.9" r="5.0" fill="#33b333" fill-opacity="0.47" stroke="#000" stroke-opacity="0.75" stroke-width="1.4"/>
<circle cx="308.3" cy="2006.6" r="5.0" fill="#33b333" fill-opacity="0.47" stroke="#000" stroke-opacity="0.75" stroke-width="1.4"/>
<circle cx="347.0" cy="2031.9" r="5.0" fill="#33b333" fill-opacity="0.47" stroke="#000" stroke-opacity="0.75" stroke-width="1.4"/>
<circle cx="326.2" cy="1970.8" r="5.0" fill="#33b333" fill-opacity="0.47" stroke="#000" stroke-opacity="0.75" stroke-width="1.4"/>
<circle cx="319.6" cy="2015.7" r="5.0" fill="#33b333" fill-opacity="0.47" stroke="#000" stroke-opacity="0.75" stroke-width="1.4"/>
<circle cx="367.8" cy="2036.3" r="5.0" fill="#33b333" fill-opacity="0.47" stroke="#000" stroke-opacity="0.75" stroke-width="1.4"/>
<circle cx="358.8" cy="2000.8" r="5.0" fill="#33b333" fill-opacity="0.47" stroke="#000" stroke-opacity="0.75" stroke-width="1.4"/>
<circle cx="369.5" cy="2011.8" r="5.0" fill="#33b333" fill-opacity="0.47" stroke="#000" stroke-opacity="0.75" stroke-width="1.4"/>
<circle cx="345.6" cy="2012.2" r="5.0" fill="#33b333" fill-opacity="0.47" stroke="#000" stroke-opacity="0.75" stroke-width="1.4"/>
<circle cx="378.0" cy="1999.4" r="5.0" fill="#33b333" fill-opacity="0.47" stroke="#000" stroke-opacity="0.75" stroke-width="1.4"/>
<circle cx="327.5" cy="2011.1" r="5.0" fill="#33b333" fill-opacity="0.47" stroke="#000" stroke-opacity="0.75" stroke-width="1.4"/>
<circle cx="348.5" cy="2000.6" r="5.0" fill="#33b333" fill-opacity="0.47" stroke="#000" stroke-opacity="0.75" stroke-width="1.4"/>
<circle cx="330.7" cy="2017.3" r="5.0" fill="#33b333" fill-opacity="0.47" stroke="#000" stroke-opacity="0.75" stroke-width="1.4"/>
<circle cx="379.4" cy="2022.0" r="5.0" fill="#33b333" fill-opacity="0.47" stroke="#000" stroke-opacity="0.75" stroke-width="1.4"/>
<circle cx="365.1" cy="2029.4" r="5.0" fill="#33b333" fill-opacity="0.47" stroke="#000" stroke-opacity="0.75" stroke-width="1.4"/>
<circle cx="306.2" cy="1990.9" r="5.0" fill="#33b333" fill-opacity="0.47" stroke="#000" stroke-opacity="0.75" stroke-width="1.4"/>
<circle cx="334.5" cy="1995.3" r="5.0" fill="#33b333" fill-opacity="0.47" stroke="#000" stroke-opacity="0.75" stroke-width="1.4"/>
<circle cx="328.2" cy="2013.0" r="5.0" fill="#33b333" fill-opacity="0.47" stroke="#000" stroke-opacity="0.75" stroke-width="1.4"/>
<circle cx="321.7" cy="2005.8" r="5.0" fill="#33b333" fill-opacity="0.47" stroke="#000" stroke-opacity="0.75" stroke-width="1.4"/>
<circle cx="305.1" cy="1998.4" r="5.0" fill="#33b333" fill-opacity="0.47" stroke="#000" stroke-opacity="0.75" stroke-width="1.4"/>
<circle cx="379.6" cy="2004.4" r="5.0" fill="#33b333" fill-opacity="0.47" stroke="#000" stroke-opacity="0.75" stroke-width="1.4"/>
<rect x="69.0" y="1838.2" width="394.4" height="456.4999999999998" fill="none" stroke="#7f7f7f" stroke-width="1.4"/>
<line x1="70.6" y1="2294.7" x2="70.6" y2="2300.7" stroke="#555" stroke-width="1.2"/>
<text x="72.0" y="2324.4" font-size="22.7" text-anchor="middle">-8</text>
<line x1="122.5" y1="2294.7" x2="122.5" y2="2300.7" stroke="#555" stroke-width="1.2"/>
<text x="122.6" y="2324.4" font-size="22.7" text-anchor="middle">-6</text>
<line x1="174.4" y1="2294.7" x2="174.4" y2="2300.7" stroke="#555" stroke-width="1.2"/>
<text x="172.6" y="2324.4" font-size="22.7" text-anchor="middle">-4</text>
<line x1="226.3" y1="2294.7" x2="226.3" y2="2300.7" stroke="#555" stroke-width="1.2"/>
<text x="227.6" y="2324.4" font-size="22.7" text-anchor="middle">-2</text>
<line x1="278.2" y1="2294.7" x2="278.2" y2="2300.7" stroke="#555" stroke-width="1.2"/>
<text x="281.6" y="2324.4" font-size="22.7" text-anchor="middle">0</text>
<line x1="330.1" y1="2294.7" x2="330.1" y2="2300.7" stroke="#555" stroke-width="1.2"/>
<text x="333.7" y="2324.4" font-size="22.7" text-anchor="middle">2</text>
<line x1="382.0" y1="2294.7" x2="382.0" y2="2300.7" stroke="#555" stroke-width="1.2"/>
<text x="383.5" y="2324.4" font-size="22.7" text-anchor="middle">4</text>
<line x1="433.9" y1="2294.7" x2="433.9" y2="2300.7" stroke="#555" stroke-width="1.2"/>
<text x="435.0" y="2324.4" font-size="22.7" text-anchor="middle">6</text>
<line x1="63.0" y1="1911.6" x2="69.0" y2="1911.6" stroke="#555" stroke-width="1.2"/>
<text transform="translate(55.0,1908.9) rotate(-90)" font-size="22.7" text-anchor="middle">20</text>
<line x1="63.0" y1="2012.2" x2="69.0" y2="2012.2" stroke="#555" stroke-width="1.2"/>
<text transform="translate(55.0,2012.8) rotate(-90)" font-size="22.7" text-anchor="middle">0</text>
<line x1="63.0" y1="2112.8" x2="69.0" y2="2112.8" stroke="#555" stroke-width="1.2"/>
<text transform="translate(55.0,2111.8) rotate(-90)" font-size="22.7" text-anchor="middle">-20</text>
<line x1="63.0" y1="2213.4" x2="69.0" y2="2213.4" stroke="#555" stroke-width="1.2"/>
<text transform="translate(55.0,2211.4) rotate(-90)" font-size="22.7" text-anchor="middle">-40</text>
<text x="267.1" y="2355.9" font-size="24" font-weight="bold" text-anchor="middle">T score [1] (0.8%)</text>
<text transform="translate(19.2,2060.7) rotate(-90)" font-size="24.3" font-weight="bold" text-anchor="middle">Orthogonal T score [1] (7%)</text>
<circle cx="497.5" cy="1857.9" r="8.6" fill="#ee1f8f" stroke="#222" stroke-width="1.3"/>
<circle cx="497.5" cy="1892.2" r="8.6" fill="#92d050" stroke="#222" stroke-width="1.3"/>
<text x="513.2" y="1864.8" font-size="23">Early</text>
<text x="513.2" y="1898.7" font-size="23">Late</text>
<text x="586.5" y="1762" font-size="79" font-weight="bold" font-family="Carlito, Calibri, 'Liberation Sans', sans-serif">C</text>
<line x1="631.3" y1="1940.0" x2="631.3" y2="2220.7" stroke="#808080" stroke-width="1.3"/>
<line x1="626" y1="2220.7" x2="631.3" y2="2220.7" stroke="#808080" stroke-width="1.3"/>
<text transform="translate(616.7,2222.2) rotate(-90)" font-size="26.5" text-anchor="middle">0.0</text>
<line x1="626" y1="2164.6" x2="631.3" y2="2164.6" stroke="#808080" stroke-width="1.3"/>
<text transform="translate(616.2,2166.1) rotate(-90)" font-size="26.5" text-anchor="middle">0.1</text>
<line x1="626" y1="2108.4" x2="631.3" y2="2108.4" stroke="#808080" stroke-width="1.3"/>
<text transform="translate(618.8,2109.9) rotate(-90)" font-size="26.5" text-anchor="middle">0.2</text>
<line x1="626" y1="2052.3" x2="631.3" y2="2052.3" stroke="#808080" stroke-width="1.3"/>
<text transform="translate(619.8,2053.8) rotate(-90)" font-size="26.5" text-anchor="middle">0.3</text>
<line x1="626" y1="1996.1" x2="631.3" y2="1996.1" stroke="#808080" stroke-width="1.3"/>
<text transform="translate(621.4,1997.6) rotate(-90)" font-size="26.5" text-anchor="middle">0.4</text>
<line x1="626" y1="1940.0" x2="631.3" y2="1940.0" stroke="#808080" stroke-width="1.3"/>
<text transform="translate(623.6,1941.5) rotate(-90)" font-size="26.5" text-anchor="middle">0.5</text>
<text x="656.9" y="1886.7" font-size="27" font-weight="bold" textLength="65.7" lengthAdjust="spacingAndGlyphs">0.584</text>
<text x="698.8" y="1969" font-size="27" font-weight="bold" textLength="65.8" lengthAdjust="spacingAndGlyphs">0.436</text>
<text x="633.2" y="2208.2" font-size="15" font-weight="bold" textLength="38.8" lengthAdjust="spacingAndGlyphs">0.011</text>
<text x="758.8" y="2124.9" font-size="17" font-weight="bold" textLength="40.7" lengthAdjust="spacingAndGlyphs">0.159</text>
<text x="794.7" y="2147.6" font-size="17" font-weight="bold" textLength="40.7" lengthAdjust="spacingAndGlyphs">0.117</text>
<text x="725.0" y="2186.0" font-size="17" font-weight="bold" textLength="40.7" lengthAdjust="spacingAndGlyphs">0.049</text>
<text x="858.8" y="2152.6" font-size="14" font-weight="bold" textLength="32.2" lengthAdjust="spacingAndGlyphs">0.103</text>
<text x="889.7" y="2172.2" font-size="14" font-weight="bold" textLength="40.7" lengthAdjust="spacingAndGlyphs">0.0749</text>
<text x="819.8" y="2188.9" font-size="14" font-weight="bold" textLength="41.7" lengthAdjust="spacingAndGlyphs">0.0452</text>
<text x="948.6" y="2177.5" font-size="14" font-weight="bold" textLength="41.0" lengthAdjust="spacingAndGlyphs">0.0656</text>
<text x="984.2" y="2195.1" font-size="14" font-weight="bold" textLength="40.0" lengthAdjust="spacingAndGlyphs">0.0238</text>
<text x="913.4" y="2205.6" font-size="14" font-weight="bold" textLength="41.4" lengthAdjust="spacingAndGlyphs">0.0204</text>
<text x="1047.3" y="2190.7" font-size="11" font-weight="bold" textLength="29.5" lengthAdjust="spacingAndGlyphs">0.0354</text>
<text x="1018.1" y="2204.9" font-size="11" font-weight="bold" textLength="29.2" lengthAdjust="spacingAndGlyphs">0.0208</text>
<text x="1079.2" y="2206.7" font-size="11" font-weight="bold" textLength="29.8" lengthAdjust="spacingAndGlyphs">0.0116</text>
<rect x="648.4" y="2214.5" width="23.8" height="6.2" fill="#add8e6" stroke="#3a3a3a" stroke-width="1"/>
<rect x="672.2" y="1892.8" width="23.8" height="327.9" fill="#ffe4e1" stroke="#3a3a3a" stroke-width="1"/>
<rect x="696.0" y="1975.9" width="23.8" height="244.8" fill="#e6e6fa" stroke="#3a3a3a" stroke-width="1"/>
<rect x="743.1" y="2193.2" width="23.8" height="27.5" fill="#add8e6" stroke="#3a3a3a" stroke-width="1"/>
<rect x="766.9" y="2131.4" width="23.8" height="89.3" fill="#ffe4e1" stroke="#3a3a3a" stroke-width="1"/>
<rect x="790.8" y="2155.0" width="23.8" height="65.7" fill="#e6e6fa" stroke="#3a3a3a" stroke-width="1"/>
<rect x="837.9" y="2195.3" width="23.8" height="25.4" fill="#add8e6" stroke="#3a3a3a" stroke-width="1"/>
<rect x="861.7" y="2162.9" width="23.8" height="57.8" fill="#ffe4e1" stroke="#3a3a3a" stroke-width="1"/>
<rect x="885.5" y="2178.7" width="23.8" height="42.0" fill="#e6e6fa" stroke="#3a3a3a" stroke-width="1"/>
<rect x="932.6" y="2209.2" width="23.8" height="11.5" fill="#add8e6" stroke="#3a3a3a" stroke-width="1"/>
<rect x="956.4" y="2183.9" width="23.8" height="36.8" fill="#ffe4e1" stroke="#3a3a3a" stroke-width="1"/>
<rect x="980.2" y="2207.3" width="23.8" height="13.4" fill="#e6e6fa" stroke="#3a3a3a" stroke-width="1"/>
<rect x="1027.4" y="2209.0" width="23.8" height="11.7" fill="#add8e6" stroke="#3a3a3a" stroke-width="1"/>
<rect x="1051.2" y="2200.8" width="23.8" height="19.9" fill="#ffe4e1" stroke="#3a3a3a" stroke-width="1"/>
<rect x="1075.0" y="2214.2" width="23.8" height="6.5" fill="#e6e6fa" stroke="#3a3a3a" stroke-width="1"/>
<text x="669.8" y="2266.8" font-size="33" text-anchor="middle">p1</text>
<text x="766.7" y="2266.8" font-size="33" text-anchor="middle">o1</text>
<text x="869.0" y="2266.8" font-size="33" text-anchor="middle">o2</text>
<text x="964.2" y="2266.8" font-size="33" text-anchor="middle">o3</text>
<text x="1064.7" y="2266.8" font-size="33" text-anchor="middle">o4</text>
<rect x="944.6" y="1864.6" width="25.4" height="28" fill="#add8e6" stroke="#2b3a67" stroke-width="1.2"/>
<text x="978.9" y="1887.9" font-size="28" font-weight="bold">R<tspan font-size='17' dy='-9'>2</tspan><tspan dy='9'>X</tspan></text>
<rect x="944.6" y="1904.2" width="25.4" height="28" fill="#ffe4e1" stroke="#2b3a67" stroke-width="1.2"/>
<text x="981.0" y="1928.8" font-size="28" font-weight="bold">R<tspan font-size='17' dy='-9'>2</tspan><tspan dy='9'>Y</tspan></text>
<rect x="944.6" y="1943.6" width="25.4" height="28" fill="#e6e6fa" stroke="#2b3a67" stroke-width="1.2"/>
<text x="979.6" y="1967.4" font-size="28" font-weight="bold">Q<tspan font-size='17' dy='-9'>2</tspan></text>
<text x="1128.5" y="1759.3" font-size="77" font-weight="bold" font-family="Carlito, Calibri, 'Liberation Sans', sans-serif">D</text>
<rect x="1232.7" y="2204.4" width="1.5" height="1.7" fill="#fdeaea"/>
<rect x="1234.6" y="2204.0" width="1.5" height="2.1" fill="#fdeaea"/>
<rect x="1236.5" y="2203.7" width="1.5" height="2.4" fill="#fdeaea"/>
<rect x="1238.4" y="2203.1" width="1.5" height="3.0" fill="#fdeaea"/>
<rect x="1240.3" y="2202.4" width="1.5" height="3.7" fill="#fdeaea"/>
<rect x="1242.2" y="2201.3" width="1.5" height="4.8" fill="#fdeaea"/>
<rect x="1244.1" y="2202.3" width="1.5" height="3.8" fill="#fdeaea"/>
<rect x="1246.0" y="2200.7" width="1.5" height="5.4" fill="#fdeaea"/>
<rect x="1247.9" y="2199.9" width="1.5" height="6.2" fill="#fdeaea"/>
<rect x="1249.8" y="2200.5" width="1.5" height="5.6" fill="#fdeaea"/>
<rect x="1251.7" y="2200.9" width="1.5" height="5.2" fill="#fdeaea"/>
<rect x="1253.6" y="2195.9" width="1.5" height="10.2" fill="#fdeaea"/>
<rect x="1255.5" y="2198.1" width="1.5" height="8.0" fill="#fdeaea"/>
<rect x="1257.4" y="2197.1" width="1.5" height="9.0" fill="#fdeaea"/>
<rect x="1259.3" y="2192.4" width="1.5" height="13.7" fill="#fdeaea"/>
<rect x="1261.2" y="2193.0" width="1.5" height="13.1" fill="#fdeaea"/>
<rect x="1263.1" y="2192.5" width="1.5" height="13.6" fill="#fdeaea"/>
<rect x="1265.0" y="2188.6" width="1.5" height="17.5" fill="#fdeaea"/>
<rect x="1266.9" y="2193.9" width="1.5" height="12.2" fill="#fdeaea"/>
<rect x="1268.8" y="2185.8" width="1.5" height="20.3" fill="#fdeaea"/>
<rect x="1270.7" y="2187.7" width="1.5" height="18.4" fill="#fdeaea"/>
<rect x="1272.6" y="2189.5" width="1.5" height="16.6" fill="#fdeaea"/>
<rect x="1274.5" y="2180.7" width="1.5" height="25.4" fill="#fdeaea"/>
<rect x="1276.4" y="2174.9" width="1.5" height="31.2" fill="#fdeaea"/>
<rect x="1278.3" y="2183.6" width="1.5" height="22.5" fill="#fdeaea"/>
<rect x="1280.2" y="2175.1" width="1.5" height="31.0" fill="#fdeaea"/>
<rect x="1282.1" y="2178.8" width="1.5" height="27.3" fill="#fdeaea"/>
<rect x="1284.0" y="2168.9" width="1.5" height="37.2" fill="#fdeaea"/>
<rect x="1285.9" y="2167.0" width="1.5" height="39.1" fill="#fdeaea"/>
<rect x="1287.8" y="2175.3" width="1.5" height="30.8" fill="#fdeaea"/>
<rect x="1289.7" y="2160.4" width="1.5" height="45.7" fill="#fdeaea"/>
<rect x="1291.6" y="2162.1" width="1.5" height="44.0" fill="#fdeaea"/>
<rect x="1293.5" y="2159.6" width="1.5" height="46.5" fill="#fdeaea"/>
<rect x="1295.4" y="2154.3" width="1.5" height="51.8" fill="#fdeaea"/>
<rect x="1297.3" y="2162.4" width="1.5" height="43.7" fill="#fdeaea"/>
<rect x="1299.2" y="2152.2" width="1.5" height="53.9" fill="#fdeaea"/>
<rect x="1301.1" y="2147.3" width="1.5" height="58.8" fill="#fdeaea"/>
<rect x="1303.0" y="2167.5" width="1.5" height="38.6" fill="#fdeaea"/>
<rect x="1304.9" y="2145.2" width="1.5" height="60.9" fill="#fdeaea"/>
<rect x="1306.8" y="2157.4" width="1.5" height="48.7" fill="#fdeaea"/>
<rect x="1308.7" y="2154.1" width="1.5" height="52.0" fill="#fdeaea"/>
<rect x="1310.6" y="2163.5" width="1.5" height="42.6" fill="#fdeaea"/>
<rect x="1312.5" y="2146.4" width="1.5" height="59.7" fill="#fdeaea"/>
<rect x="1314.4" y="2158.5" width="1.5" height="47.6" fill="#fdeaea"/>
<rect x="1316.3" y="2140.8" width="1.5" height="65.3" fill="#fdeaea"/>
<rect x="1318.2" y="2159.0" width="1.5" height="47.1" fill="#fdeaea"/>
<rect x="1320.1" y="2150.7" width="1.5" height="55.4" fill="#fdeaea"/>
<rect x="1322.0" y="2156.0" width="1.5" height="50.1" fill="#fdeaea"/>
<rect x="1323.9" y="2150.4" width="1.5" height="55.7" fill="#fdeaea"/>
<rect x="1325.8" y="2163.4" width="1.5" height="42.7" fill="#fdeaea"/>
<rect x="1327.7" y="2164.7" width="1.5" height="41.4" fill="#fdeaea"/>
<rect x="1329.6" y="2149.9" width="1.5" height="56.2" fill="#fdeaea"/>
<rect x="1331.5" y="2151.2" width="1.5" height="54.9" fill="#fdeaea"/>
<rect x="1333.4" y="2157.7" width="1.5" height="48.4" fill="#fdeaea"/>
<rect x="1335.3" y="2150.4" width="1.5" height="55.7" fill="#fdeaea"/>
<rect x="1337.2" y="2169.9" width="1.5" height="36.2" fill="#fdeaea"/>
<rect x="1339.1" y="2156.2" width="1.5" height="49.9" fill="#fdeaea"/>
<rect x="1341.0" y="2173.7" width="1.5" height="32.4" fill="#fdeaea"/>
<rect x="1342.9" y="2158.2" width="1.5" height="47.9" fill="#fdeaea"/>
<rect x="1344.8" y="2167.6" width="1.5" height="38.5" fill="#fdeaea"/>
<rect x="1346.7" y="2169.9" width="1.5" height="36.2" fill="#fdeaea"/>
<rect x="1348.6" y="2165.4" width="1.5" height="40.7" fill="#fdeaea"/>
<rect x="1350.5" y="2171.0" width="1.5" height="35.1" fill="#fdeaea"/>
<rect x="1352.4" y="2173.2" width="1.5" height="32.9" fill="#fdeaea"/>
<rect x="1354.3" y="2186.3" width="1.5" height="19.8" fill="#fdeaea"/>
<rect x="1356.2" y="2183.4" width="1.5" height="22.7" fill="#fdeaea"/>
<rect x="1358.1" y="2188.7" width="1.5" height="17.4" fill="#fdeaea"/>
<rect x="1360.0" y="2188.7" width="1.5" height="17.4" fill="#fdeaea"/>
<rect x="1361.9" y="2189.9" width="1.5" height="16.2" fill="#fdeaea"/>
<rect x="1363.8" y="2184.8" width="1.5" height="21.3" fill="#fdeaea"/>
<rect x="1365.7" y="2193.3" width="1.5" height="12.8" fill="#fdeaea"/>
<rect x="1367.6" y="2193.1" width="1.5" height="13.0" fill="#fdeaea"/>
<rect x="1369.5" y="2192.8" width="1.5" height="13.3" fill="#fdeaea"/>
<rect x="1371.4" y="2191.6" width="1.5" height="14.5" fill="#fdeaea"/>
<rect x="1373.3" y="2192.4" width="1.5" height="13.7" fill="#fdeaea"/>
<rect x="1375.2" y="2195.2" width="1.5" height="10.9" fill="#fdeaea"/>
<rect x="1377.1" y="2198.8" width="1.5" height="7.3" fill="#fdeaea"/>
<rect x="1379.0" y="2198.1" width="1.5" height="8.0" fill="#fdeaea"/>
<rect x="1380.9" y="2198.4" width="1.5" height="7.7" fill="#fdeaea"/>
<rect x="1382.8" y="2201.5" width="1.5" height="4.6" fill="#fdeaea"/>
<rect x="1384.7" y="2200.2" width="1.5" height="5.9" fill="#fdeaea"/>
<rect x="1386.6" y="2201.7" width="1.5" height="4.4" fill="#fdeaea"/>
<rect x="1388.5" y="2201.7" width="1.5" height="4.4" fill="#fdeaea"/>
<rect x="1390.4" y="2202.1" width="1.5" height="4.0" fill="#fdeaea"/>
<rect x="1392.3" y="2202.7" width="1.5" height="3.4" fill="#fdeaea"/>
<rect x="1599.30" y="2185.3" width="0.5" height="20.8" fill="#c4e3ee"/>
<rect x="1600.05" y="2185.3" width="0.5" height="20.8" fill="#c4e3ee"/>
<rect x="1600.80" y="2185.3" width="0.5" height="20.8" fill="#c4e3ee"/>
<rect x="1601.50" y="2150.7" width="0.5" height="55.4" fill="#c4e3ee"/>
<rect x="1602.25" y="2150.7" width="0.5" height="55.4" fill="#c4e3ee"/>
<rect x="1603.00" y="2150.7" width="0.5" height="55.4" fill="#c4e3ee"/>
<rect x="1603.70" y="2032.9" width="0.5" height="173.2" fill="#c4e3ee"/>
<rect x="1604.45" y="2032.9" width="0.5" height="173.2" fill="#c4e3ee"/>
<rect x="1605.20" y="2032.9" width="0.5" height="173.2" fill="#c4e3ee"/>
<rect x="1605.90" y="1880.6" width="0.5" height="325.5" fill="#c4e3ee"/>
<rect x="1606.65" y="1880.6" width="0.5" height="325.5" fill="#c4e3ee"/>
<rect x="1607.40" y="1880.6" width="0.5" height="325.5" fill="#c4e3ee"/>
<rect x="1608.10" y="1859.8" width="0.5" height="346.3" fill="#c4e3ee"/>
<rect x="1608.85" y="1859.8" width="0.5" height="346.3" fill="#c4e3ee"/>
<rect x="1609.60" y="1859.8" width="0.5" height="346.3" fill="#c4e3ee"/>
<rect x="1610.30" y="1942.9" width="0.5" height="263.2" fill="#c4e3ee"/>
<rect x="1611.05" y="1942.9" width="0.5" height="263.2" fill="#c4e3ee"/>
<rect x="1611.80" y="1942.9" width="0.5" height="263.2" fill="#c4e3ee"/>
<rect x="1612.50" y="2102.2" width="0.5" height="103.9" fill="#c4e3ee"/>
<rect x="1613.25" y="2102.2" width="0.5" height="103.9" fill="#c4e3ee"/>
<rect x="1614.00" y="2102.2" width="0.5" height="103.9" fill="#c4e3ee"/>
<rect x="1614.70" y="2102.2" width="0.5" height="103.9" fill="#c4e3ee"/>
<rect x="1615.45" y="2102.2" width="0.5" height="103.9" fill="#c4e3ee"/>
<rect x="1616.20" y="2102.2" width="0.5" height="103.9" fill="#c4e3ee"/>
<rect x="1616.90" y="2170.1" width="0.5" height="36.0" fill="#c4e3ee"/>
<rect x="1617.65" y="2170.1" width="0.5" height="36.0" fill="#c4e3ee"/>
<rect x="1618.40" y="2170.1" width="0.5" height="36.0" fill="#c4e3ee"/>
<rect x="1619.10" y="2199.2" width="0.5" height="6.9" fill="#c4e3ee"/>
<rect x="1619.85" y="2199.2" width="0.5" height="6.9" fill="#c4e3ee"/>
<rect x="1620.60" y="2199.2" width="0.5" height="6.9" fill="#c4e3ee"/>
<line x1="1201.8" y1="1859.8" x2="1201.8" y2="2206.1" stroke="#222" stroke-width="1.3"/>
<line x1="1194.9" y1="2206.1" x2="1201.8" y2="2206.1" stroke="#222" stroke-width="1.3"/>
<text transform="translate(1189.6,2206.1) rotate(-90)" font-size="26" text-anchor="middle">0</text>
<line x1="1194.9" y1="2136.8" x2="1201.8" y2="2136.8" stroke="#222" stroke-width="1.3"/>
<text transform="translate(1189.6,2136.8) rotate(-90)" font-size="26" text-anchor="middle">50</text>
<line x1="1194.9" y1="2067.6" x2="1201.8" y2="2067.6" stroke="#222" stroke-width="1.3"/>
<text transform="translate(1189.6,2067.6) rotate(-90)" font-size="26" text-anchor="middle">100</text>
<line x1="1194.9" y1="1998.3" x2="1201.8" y2="1998.3" stroke="#222" stroke-width="1.3"/>
<text transform="translate(1189.6,1998.3) rotate(-90)" font-size="26" text-anchor="middle">150</text>
<line x1="1194.9" y1="1929.1" x2="1201.8" y2="1929.1" stroke="#222" stroke-width="1.3"/>
<text transform="translate(1189.6,1929.1) rotate(-90)" font-size="26" text-anchor="middle">200</text>
<line x1="1194.9" y1="1859.8" x2="1201.8" y2="1859.8" stroke="#222" stroke-width="1.3"/>
<text transform="translate(1189.6,1859.8) rotate(-90)" font-size="26" text-anchor="middle">250</text>
<line x1="1286.2" y1="2221.4" x2="1644.2" y2="2221.4" stroke="#222" stroke-width="1.3"/>
<line x1="1286.2" y1="2221.4" x2="1286.2" y2="2229.6" stroke="#222" stroke-width="1.3"/>
<text x="1278.9" y="2256.6" font-size="26" text-anchor="middle">-0.5</text>
<line x1="1405.5" y1="2221.4" x2="1405.5" y2="2229.6" stroke="#222" stroke-width="1.3"/>
<text x="1405.5" y="2256.6" font-size="26" text-anchor="middle">0.0</text>
<line x1="1524.8" y1="2221.4" x2="1524.8" y2="2229.6" stroke="#222" stroke-width="1.3"/>
<text x="1520.0" y="2256.6" font-size="26" text-anchor="middle">0.5</text>
<line x1="1644.2" y1="2221.4" x2="1644.2" y2="2229.6" stroke="#222" stroke-width="1.3"/>
<text x="1641.1" y="2259.8" font-size="26" text-anchor="middle">1.0</text>
<text x="1473.7" y="2290.5" font-size="33" font-weight="bold" text-anchor="middle">Permutations</text>
<text transform="translate(1153,2004.5) rotate(-90)" font-size="33" font-weight="bold" text-anchor="middle">Frequency</text>
<rect x="1397.2" y="1869.2" width="26.2" height="28.1" fill="#ffe4e1" stroke="#2b3a67" stroke-width="1.2"/>
<rect x="1397.2" y="1904.0" width="26.2" height="27.8" fill="#e6e6fa" stroke="#2b3a67" stroke-width="1.2"/>
<text x="1437.8" y="1893.5" font-size="27" font-weight="bold">Perm R<tspan font-size="17" dy="-9">2</tspan><tspan dy="9">Y</tspan></text>
<text x="1437.8" y="1927.5" font-size="27" font-weight="bold">Perm Q<tspan font-size="17" dy="-9">2</tspan></text>
<rect x="1483" y="1985" width="172" height="47" fill="#fff"/>
<rect x="1568" y="2055" width="168" height="48" fill="#fff"/>
<text x="1523.6" y="2002.8" font-size="20.2" font-weight="bold">Q<tspan font-size="12.5" dy="-7.5">2</tspan><tspan dy="7.5">= 0.663</tspan></text>
<text x="1485.3" y="2027.6" font-size="20.2" font-weight="bold"><tspan font-style="italic">P</tspan> &lt; 0.001 (0/1000)</text>
<text x="1602.4" y="2073.4" font-size="20.2" font-weight="bold">R<tspan font-size="12.5" dy="-7.5">2</tspan><tspan dy="7.5">Y= 0.947</tspan></text>
<text x="1570.4" y="2097.8" font-size="20.2" font-weight="bold"><tspan font-style="italic">P</tspan> &lt; 0.001 (0/1000)</text>
<line x1="1563.8" y1="2032.1" x2="1563.8" y2="2207" stroke="#000" stroke-width="2.2"/>
<path d="M1559.0,2199.3 L1563.8,2207.6 L1568.6,2199.3" fill="none" stroke="#000" stroke-width="2.2" stroke-linejoin="miter"/>
<line x1="1631.7" y1="2103.3" x2="1631.7" y2="2207" stroke="#000" stroke-width="2.2"/>
<path d="M1626.9,2199.3 L1631.7,2207.6 L1636.5,2199.3" fill="none" stroke="#000" stroke-width="2.2" stroke-linejoin="miter"/>
</svg></body></html>
